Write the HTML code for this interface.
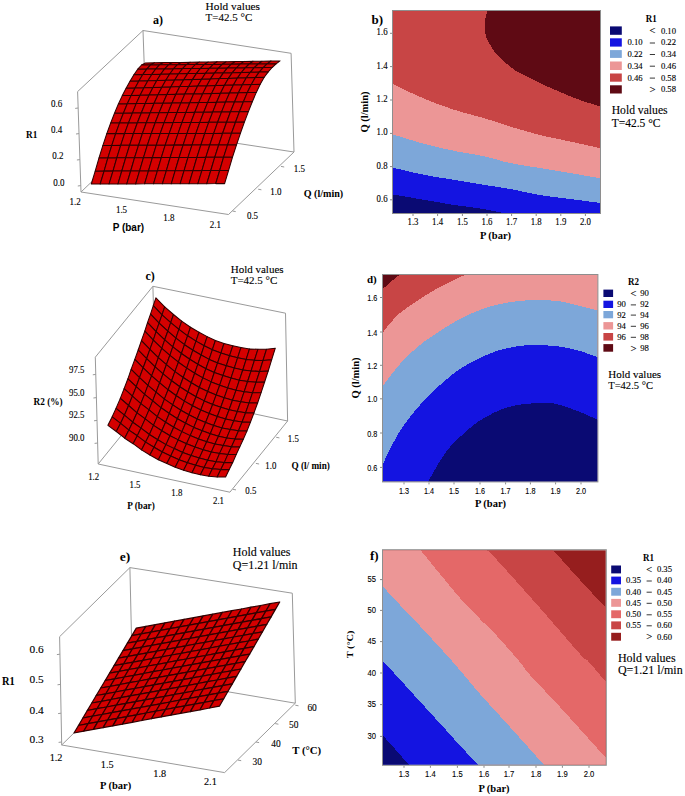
<!DOCTYPE html>
<html><head><meta charset="utf-8"><title>figure</title>
<style>html,body{margin:0;padding:0;background:#fff}svg{display:block}</style>
</head><body>
<svg width="685" height="796" viewBox="0 0 685 796">
<rect width="685" height="796" fill="#fff"/>
<line x1="81.0" y1="192.0" x2="77.6" y2="91.6" stroke="#9a9a9a" stroke-width="1"/>
<line x1="77.6" y1="91.6" x2="143.0" y2="30.5" stroke="#9a9a9a" stroke-width="1"/>
<line x1="143.0" y1="30.5" x2="291.1" y2="53.3" stroke="#9a9a9a" stroke-width="1"/>
<line x1="143.0" y1="30.5" x2="146.5" y2="129.5" stroke="#9a9a9a" stroke-width="1"/>
<line x1="291.1" y1="53.3" x2="294.0" y2="152.0" stroke="#9a9a9a" stroke-width="1"/>
<line x1="81.0" y1="192.0" x2="228.5" y2="214.5" stroke="#9a9a9a" stroke-width="1"/>
<line x1="228.5" y1="214.5" x2="294.0" y2="152.0" stroke="#9a9a9a" stroke-width="1"/>
<line x1="146.5" y1="129.5" x2="294.0" y2="152.0" stroke="#9a9a9a" stroke-width="1"/>
<line x1="81.0" y1="192.0" x2="146.5" y2="129.5" stroke="#9a9a9a" stroke-width="1"/>
<g stroke="#300000" stroke-width="1.05" stroke-linejoin="round" fill="#d40000">
<polygon points="141.6,65.0 150.6,64.9 154.5,62.8 145.5,62.9"/>
<polygon points="150.6,64.9 159.5,64.8 163.4,62.6 154.5,62.8"/>
<polygon points="159.5,64.8 168.5,64.8 172.4,62.5 163.4,62.6"/>
<polygon points="168.5,64.8 177.5,64.7 181.4,62.4 172.4,62.5"/>
<polygon points="177.5,64.7 186.4,64.6 190.3,62.2 181.4,62.4"/>
<polygon points="186.4,64.6 195.4,64.5 199.3,62.1 190.3,62.2"/>
<polygon points="195.4,64.5 204.4,64.4 208.3,62.0 199.3,62.1"/>
<polygon points="204.4,64.4 213.3,64.4 217.2,61.8 208.3,62.0"/>
<polygon points="213.3,64.4 222.3,64.3 226.2,61.7 217.2,61.8"/>
<polygon points="222.3,64.3 231.3,64.2 235.2,61.6 226.2,61.7"/>
<polygon points="231.3,64.2 240.2,64.1 244.2,61.4 235.2,61.6"/>
<polygon points="240.2,64.1 249.2,64.0 253.1,61.3 244.2,61.4"/>
<polygon points="249.2,64.0 258.2,64.0 262.1,61.2 253.1,61.3"/>
<polygon points="258.2,64.0 267.1,63.9 271.1,61.0 262.1,61.2"/>
<polygon points="267.1,63.9 276.1,63.8 280.0,60.9 271.1,61.0"/>
<polygon points="137.7,69.2 146.7,69.1 150.6,64.9 141.6,65.0"/>
<polygon points="146.7,69.1 155.7,69.0 159.5,64.8 150.6,64.9"/>
<polygon points="155.7,69.0 164.6,68.9 168.5,64.8 159.5,64.8"/>
<polygon points="164.6,68.9 173.6,68.7 177.5,64.7 168.5,64.8"/>
<polygon points="173.6,68.7 182.5,68.6 186.4,64.6 177.5,64.7"/>
<polygon points="182.5,68.6 191.5,68.5 195.4,64.5 186.4,64.6"/>
<polygon points="191.5,68.5 200.5,68.4 204.4,64.4 195.4,64.5"/>
<polygon points="200.5,68.4 209.4,68.3 213.3,64.4 204.4,64.4"/>
<polygon points="209.4,68.3 218.4,68.2 222.3,64.3 213.3,64.4"/>
<polygon points="218.4,68.2 227.3,68.1 231.3,64.2 222.3,64.3"/>
<polygon points="227.3,68.1 236.3,68.0 240.2,64.1 231.3,64.2"/>
<polygon points="236.3,68.0 245.2,67.8 249.2,64.0 240.2,64.1"/>
<polygon points="245.2,67.8 254.2,67.7 258.2,64.0 249.2,64.0"/>
<polygon points="254.2,67.7 263.2,67.6 267.1,63.9 258.2,64.0"/>
<polygon points="263.2,67.6 272.1,67.5 276.1,63.8 267.1,63.9"/>
<polygon points="133.9,74.8 142.8,74.6 146.7,69.1 137.7,69.2"/>
<polygon points="142.8,74.6 151.8,74.4 155.7,69.0 146.7,69.1"/>
<polygon points="151.8,74.4 160.7,74.2 164.6,68.9 155.7,69.0"/>
<polygon points="160.7,74.2 169.7,74.0 173.6,68.7 164.6,68.9"/>
<polygon points="169.7,74.0 178.6,73.8 182.5,68.6 173.6,68.7"/>
<polygon points="178.6,73.8 187.6,73.6 191.5,68.5 182.5,68.6"/>
<polygon points="187.6,73.6 196.5,73.4 200.5,68.4 191.5,68.5"/>
<polygon points="196.5,73.4 205.5,73.3 209.4,68.3 200.5,68.4"/>
<polygon points="205.5,73.3 214.4,73.1 218.4,68.2 209.4,68.3"/>
<polygon points="214.4,73.1 223.4,72.9 227.3,68.1 218.4,68.2"/>
<polygon points="223.4,72.9 232.3,72.7 236.3,68.0 227.3,68.1"/>
<polygon points="232.3,72.7 241.3,72.5 245.2,67.8 236.3,68.0"/>
<polygon points="241.3,72.5 250.3,72.3 254.2,67.7 245.2,67.8"/>
<polygon points="250.3,72.3 259.2,72.1 263.2,67.6 254.2,67.7"/>
<polygon points="259.2,72.1 268.2,71.9 272.1,67.5 263.2,67.6"/>
<polygon points="130.0,81.3 138.9,81.0 142.8,74.6 133.9,74.8"/>
<polygon points="138.9,81.0 147.9,80.8 151.8,74.4 142.8,74.6"/>
<polygon points="147.9,80.8 156.8,80.5 160.7,74.2 151.8,74.4"/>
<polygon points="156.8,80.5 165.8,80.2 169.7,74.0 160.7,74.2"/>
<polygon points="165.8,80.2 174.7,80.0 178.6,73.8 169.7,74.0"/>
<polygon points="174.7,80.0 183.7,79.7 187.6,73.6 178.6,73.8"/>
<polygon points="183.7,79.7 192.6,79.4 196.5,73.4 187.6,73.6"/>
<polygon points="192.6,79.4 201.6,79.2 205.5,73.3 196.5,73.4"/>
<polygon points="201.6,79.2 210.5,78.9 214.4,73.1 205.5,73.3"/>
<polygon points="210.5,78.9 219.5,78.6 223.4,72.9 214.4,73.1"/>
<polygon points="219.5,78.6 228.4,78.4 232.3,72.7 223.4,72.9"/>
<polygon points="228.4,78.4 237.4,78.1 241.3,72.5 232.3,72.7"/>
<polygon points="237.4,78.1 246.3,77.8 250.3,72.3 241.3,72.5"/>
<polygon points="246.3,77.8 255.3,77.6 259.2,72.1 250.3,72.3"/>
<polygon points="255.3,77.6 264.2,77.3 268.2,71.9 259.2,72.1"/>
<polygon points="126.1,88.2 135.1,87.9 138.9,81.0 130.0,81.3"/>
<polygon points="135.1,87.9 144.0,87.7 147.9,80.8 138.9,81.0"/>
<polygon points="144.0,87.7 153.0,87.4 156.8,80.5 147.9,80.8"/>
<polygon points="153.0,87.4 161.9,87.2 165.8,80.2 156.8,80.5"/>
<polygon points="161.9,87.2 170.8,86.9 174.7,80.0 165.8,80.2"/>
<polygon points="170.8,86.9 179.8,86.6 183.7,79.7 174.7,80.0"/>
<polygon points="179.8,86.6 188.7,86.4 192.6,79.4 183.7,79.7"/>
<polygon points="188.7,86.4 197.7,86.1 201.6,79.2 192.6,79.4"/>
<polygon points="197.7,86.1 206.6,85.9 210.5,78.9 201.6,79.2"/>
<polygon points="206.6,85.9 215.5,85.6 219.5,78.6 210.5,78.9"/>
<polygon points="215.5,85.6 224.5,85.3 228.4,78.4 219.5,78.6"/>
<polygon points="224.5,85.3 233.4,85.1 237.4,78.1 228.4,78.4"/>
<polygon points="233.4,85.1 242.4,84.8 246.3,77.8 237.4,78.1"/>
<polygon points="242.4,84.8 251.3,84.6 255.3,77.6 246.3,77.8"/>
<polygon points="251.3,84.6 260.2,84.3 264.2,77.3 255.3,77.6"/>
<polygon points="122.3,95.6 131.2,95.4 135.1,87.9 126.1,88.2"/>
<polygon points="131.2,95.4 140.1,95.2 144.0,87.7 135.1,87.9"/>
<polygon points="140.1,95.2 149.1,95.0 153.0,87.4 144.0,87.7"/>
<polygon points="149.1,95.0 158.0,94.7 161.9,87.2 153.0,87.4"/>
<polygon points="158.0,94.7 166.9,94.5 170.8,86.9 161.9,87.2"/>
<polygon points="166.9,94.5 175.9,94.3 179.8,86.6 170.8,86.9"/>
<polygon points="175.9,94.3 184.8,94.1 188.7,86.4 179.8,86.6"/>
<polygon points="184.8,94.1 193.7,93.9 197.7,86.1 188.7,86.4"/>
<polygon points="193.7,93.9 202.7,93.7 206.6,85.9 197.7,86.1"/>
<polygon points="202.7,93.7 211.6,93.5 215.5,85.6 206.6,85.9"/>
<polygon points="211.6,93.5 220.5,93.3 224.5,85.3 215.5,85.6"/>
<polygon points="220.5,93.3 229.5,93.0 233.4,85.1 224.5,85.3"/>
<polygon points="229.5,93.0 238.4,92.8 242.4,84.8 233.4,85.1"/>
<polygon points="238.4,92.8 247.3,92.6 251.3,84.6 242.4,84.8"/>
<polygon points="247.3,92.6 256.3,92.4 260.2,84.3 251.3,84.6"/>
<polygon points="118.4,103.9 127.3,103.8 131.2,95.4 122.3,95.6"/>
<polygon points="127.3,103.8 136.2,103.6 140.1,95.2 131.2,95.4"/>
<polygon points="136.2,103.6 145.2,103.5 149.1,95.0 140.1,95.2"/>
<polygon points="145.2,103.5 154.1,103.3 158.0,94.7 149.1,95.0"/>
<polygon points="154.1,103.3 163.0,103.2 166.9,94.5 158.0,94.7"/>
<polygon points="163.0,103.2 172.0,103.0 175.9,94.3 166.9,94.5"/>
<polygon points="172.0,103.0 180.9,102.9 184.8,94.1 175.9,94.3"/>
<polygon points="180.9,102.9 189.8,102.7 193.7,93.9 184.8,94.1"/>
<polygon points="189.8,102.7 198.7,102.6 202.7,93.7 193.7,93.9"/>
<polygon points="198.7,102.6 207.7,102.4 211.6,93.5 202.7,93.7"/>
<polygon points="207.7,102.4 216.6,102.3 220.5,93.3 211.6,93.5"/>
<polygon points="216.6,102.3 225.5,102.1 229.5,93.0 220.5,93.3"/>
<polygon points="225.5,102.1 234.5,102.0 238.4,92.8 229.5,93.0"/>
<polygon points="234.5,102.0 243.4,101.8 247.3,92.6 238.4,92.8"/>
<polygon points="243.4,101.8 252.3,101.7 256.3,92.4 247.3,92.6"/>
<polygon points="114.5,113.3 123.4,113.2 127.3,103.8 118.4,103.9"/>
<polygon points="123.4,113.2 132.4,113.1 136.2,103.6 127.3,103.8"/>
<polygon points="132.4,113.1 141.3,113.0 145.2,103.5 136.2,103.6"/>
<polygon points="141.3,113.0 150.2,112.8 154.1,103.3 145.2,103.5"/>
<polygon points="150.2,112.8 159.1,112.7 163.0,103.2 154.1,103.3"/>
<polygon points="159.1,112.7 168.1,112.6 172.0,103.0 163.0,103.2"/>
<polygon points="168.1,112.6 177.0,112.5 180.9,102.9 172.0,103.0"/>
<polygon points="177.0,112.5 185.9,112.4 189.8,102.7 180.9,102.9"/>
<polygon points="185.9,112.4 194.8,112.3 198.7,102.6 189.8,102.7"/>
<polygon points="194.8,112.3 203.7,112.2 207.7,102.4 198.7,102.6"/>
<polygon points="203.7,112.2 212.7,112.1 216.6,102.3 207.7,102.4"/>
<polygon points="212.7,112.1 221.6,111.9 225.5,102.1 216.6,102.3"/>
<polygon points="221.6,111.9 230.5,111.8 234.5,102.0 225.5,102.1"/>
<polygon points="230.5,111.8 239.4,111.7 243.4,101.8 234.5,102.0"/>
<polygon points="239.4,111.7 248.4,111.6 252.3,101.7 243.4,101.8"/>
<polygon points="110.7,123.0 119.6,122.9 123.4,113.2 114.5,113.3"/>
<polygon points="119.6,122.9 128.5,122.9 132.4,113.1 123.4,113.2"/>
<polygon points="128.5,122.9 137.4,122.8 141.3,113.0 132.4,113.1"/>
<polygon points="137.4,122.8 146.3,122.8 150.2,112.8 141.3,113.0"/>
<polygon points="146.3,122.8 155.2,122.7 159.1,112.7 150.2,112.8"/>
<polygon points="155.2,122.7 164.1,122.6 168.1,112.6 159.1,112.7"/>
<polygon points="164.1,122.6 173.1,122.6 177.0,112.5 168.1,112.6"/>
<polygon points="173.1,122.6 182.0,122.5 185.9,112.4 177.0,112.5"/>
<polygon points="182.0,122.5 190.9,122.5 194.8,112.3 185.9,112.4"/>
<polygon points="190.9,122.5 199.8,122.4 203.7,112.2 194.8,112.3"/>
<polygon points="199.8,122.4 208.7,122.3 212.7,112.1 203.7,112.2"/>
<polygon points="208.7,122.3 217.6,122.3 221.6,111.9 212.7,112.1"/>
<polygon points="217.6,122.3 226.6,122.2 230.5,111.8 221.6,111.9"/>
<polygon points="226.6,122.2 235.5,122.2 239.4,111.7 230.5,111.8"/>
<polygon points="235.5,122.2 244.4,122.1 248.4,111.6 239.4,111.7"/>
<polygon points="106.8,133.6 115.7,133.6 119.6,122.9 110.7,123.0"/>
<polygon points="115.7,133.6 124.6,133.6 128.5,122.9 119.6,122.9"/>
<polygon points="124.6,133.6 133.5,133.5 137.4,122.8 128.5,122.9"/>
<polygon points="133.5,133.5 142.4,133.5 146.3,122.8 137.4,122.8"/>
<polygon points="142.4,133.5 151.3,133.5 155.2,122.7 146.3,122.8"/>
<polygon points="151.3,133.5 160.2,133.5 164.1,122.6 155.2,122.7"/>
<polygon points="160.2,133.5 169.2,133.5 173.1,122.6 164.1,122.6"/>
<polygon points="169.2,133.5 178.1,133.4 182.0,122.5 173.1,122.6"/>
<polygon points="178.1,133.4 187.0,133.4 190.9,122.5 182.0,122.5"/>
<polygon points="187.0,133.4 195.9,133.4 199.8,122.4 190.9,122.5"/>
<polygon points="195.9,133.4 204.8,133.4 208.7,122.3 199.8,122.4"/>
<polygon points="204.8,133.4 213.7,133.4 217.6,122.3 208.7,122.3"/>
<polygon points="213.7,133.4 222.6,133.3 226.6,122.2 217.6,122.3"/>
<polygon points="222.6,133.3 231.5,133.3 235.5,122.2 226.6,122.2"/>
<polygon points="231.5,133.3 240.4,133.3 244.4,122.1 235.5,122.2"/>
<polygon points="102.9,145.4 111.8,145.4 115.7,133.6 106.8,133.6"/>
<polygon points="111.8,145.4 120.7,145.3 124.6,133.6 115.7,133.6"/>
<polygon points="120.7,145.3 129.6,145.3 133.5,133.5 124.6,133.6"/>
<polygon points="129.6,145.3 138.5,145.3 142.4,133.5 133.5,133.5"/>
<polygon points="138.5,145.3 147.4,145.2 151.3,133.5 142.4,133.5"/>
<polygon points="147.4,145.2 156.3,145.2 160.2,133.5 151.3,133.5"/>
<polygon points="156.3,145.2 165.2,145.2 169.2,133.5 160.2,133.5"/>
<polygon points="165.2,145.2 174.1,145.1 178.1,133.4 169.2,133.5"/>
<polygon points="174.1,145.1 183.1,145.1 187.0,133.4 178.1,133.4"/>
<polygon points="183.1,145.1 192.0,145.1 195.9,133.4 187.0,133.4"/>
<polygon points="192.0,145.1 200.9,145.0 204.8,133.4 195.9,133.4"/>
<polygon points="200.9,145.0 209.8,145.0 213.7,133.4 204.8,133.4"/>
<polygon points="209.8,145.0 218.7,145.0 222.6,133.3 213.7,133.4"/>
<polygon points="218.7,145.0 227.6,144.9 231.5,133.3 222.6,133.3"/>
<polygon points="227.6,144.9 236.5,144.9 240.4,133.3 231.5,133.3"/>
<polygon points="99.0,157.9 107.9,157.9 111.8,145.4 102.9,145.4"/>
<polygon points="107.9,157.9 116.8,157.8 120.7,145.3 111.8,145.4"/>
<polygon points="116.8,157.8 125.7,157.8 129.6,145.3 120.7,145.3"/>
<polygon points="125.7,157.8 134.6,157.7 138.5,145.3 129.6,145.3"/>
<polygon points="134.6,157.7 143.5,157.7 147.4,145.2 138.5,145.3"/>
<polygon points="143.5,157.7 152.4,157.6 156.3,145.2 147.4,145.2"/>
<polygon points="152.4,157.6 161.3,157.6 165.2,145.2 156.3,145.2"/>
<polygon points="161.3,157.6 170.2,157.5 174.1,145.1 165.2,145.2"/>
<polygon points="170.2,157.5 179.1,157.5 183.1,145.1 174.1,145.1"/>
<polygon points="179.1,157.5 188.0,157.4 192.0,145.1 183.1,145.1"/>
<polygon points="188.0,157.4 196.9,157.4 200.9,145.0 192.0,145.1"/>
<polygon points="196.9,157.4 205.8,157.3 209.8,145.0 200.9,145.0"/>
<polygon points="205.8,157.3 214.7,157.3 218.7,145.0 209.8,145.0"/>
<polygon points="214.7,157.3 223.6,157.2 227.6,144.9 218.7,145.0"/>
<polygon points="223.6,157.2 232.5,157.2 236.5,144.9 227.6,144.9"/>
<polygon points="95.2,171.2 104.1,171.1 107.9,157.9 99.0,157.9"/>
<polygon points="104.1,171.1 113.0,171.1 116.8,157.8 107.9,157.9"/>
<polygon points="113.0,171.1 121.8,171.0 125.7,157.8 116.8,157.8"/>
<polygon points="121.8,171.0 130.7,171.0 134.6,157.7 125.7,157.8"/>
<polygon points="130.7,171.0 139.6,170.9 143.5,157.7 134.6,157.7"/>
<polygon points="139.6,170.9 148.5,170.9 152.4,157.6 143.5,157.7"/>
<polygon points="148.5,170.9 157.4,170.8 161.3,157.6 152.4,157.6"/>
<polygon points="157.4,170.8 166.3,170.8 170.2,157.5 161.3,157.6"/>
<polygon points="166.3,170.8 175.2,170.7 179.1,157.5 170.2,157.5"/>
<polygon points="175.2,170.7 184.1,170.7 188.0,157.4 179.1,157.5"/>
<polygon points="184.1,170.7 193.0,170.6 196.9,157.4 188.0,157.4"/>
<polygon points="193.0,170.6 201.9,170.6 205.8,157.3 196.9,157.4"/>
<polygon points="201.9,170.6 210.8,170.5 214.7,157.3 205.8,157.3"/>
<polygon points="210.8,170.5 219.7,170.5 223.6,157.2 214.7,157.3"/>
<polygon points="219.7,170.5 228.6,170.4 232.5,157.2 223.6,157.2"/>
<polygon points="91.3,184.0 100.2,184.0 104.1,171.1 95.2,171.2"/>
<polygon points="100.2,184.0 109.1,183.9 113.0,171.1 104.1,171.1"/>
<polygon points="109.1,183.9 118.0,183.9 121.8,171.0 113.0,171.1"/>
<polygon points="118.0,183.9 126.8,183.9 130.7,171.0 121.8,171.0"/>
<polygon points="126.8,183.9 135.7,183.9 139.6,170.9 130.7,171.0"/>
<polygon points="135.7,183.9 144.6,183.8 148.5,170.9 139.6,170.9"/>
<polygon points="144.6,183.8 153.5,183.8 157.4,170.8 148.5,170.9"/>
<polygon points="153.5,183.8 162.4,183.8 166.3,170.8 157.4,170.8"/>
<polygon points="162.4,183.8 171.3,183.8 175.2,170.7 166.3,170.8"/>
<polygon points="171.3,183.8 180.2,183.7 184.1,170.7 175.2,170.7"/>
<polygon points="180.2,183.7 189.1,183.7 193.0,170.6 184.1,170.7"/>
<polygon points="189.1,183.7 197.9,183.7 201.9,170.6 193.0,170.6"/>
<polygon points="197.9,183.7 206.8,183.7 210.8,170.5 201.9,170.6"/>
<polygon points="206.8,183.7 215.7,183.6 219.7,170.5 210.8,170.5"/>
<polygon points="215.7,183.6 224.6,183.6 228.6,170.4 219.7,170.5"/>
</g>
<line x1="98.2" y1="464.0" x2="95.3" y2="357.2" stroke="#9a9a9a" stroke-width="1"/>
<line x1="95.3" y1="357.2" x2="152.9" y2="286.3" stroke="#9a9a9a" stroke-width="1"/>
<line x1="152.9" y1="286.3" x2="285.5" y2="313.2" stroke="#9a9a9a" stroke-width="1"/>
<line x1="152.9" y1="286.3" x2="155.9" y2="392.8" stroke="#9a9a9a" stroke-width="1"/>
<line x1="285.5" y1="313.2" x2="287.6" y2="421.0" stroke="#9a9a9a" stroke-width="1"/>
<line x1="98.2" y1="464.0" x2="229.9" y2="492.2" stroke="#9a9a9a" stroke-width="1"/>
<line x1="229.9" y1="492.2" x2="287.6" y2="421.0" stroke="#9a9a9a" stroke-width="1"/>
<line x1="155.9" y1="392.8" x2="287.6" y2="421.0" stroke="#9a9a9a" stroke-width="1"/>
<line x1="98.2" y1="464.0" x2="155.9" y2="392.8" stroke="#9a9a9a" stroke-width="1"/>
<g stroke="#300000" stroke-width="1.05" stroke-linejoin="round" fill="#d40000">
<polygon points="153.3,305.7 162.0,314.8 164.7,306.8 155.9,297.8"/>
<polygon points="162.0,314.8 170.7,322.6 173.5,314.5 164.7,306.8"/>
<polygon points="170.7,322.6 178.9,329.4 181.7,321.1 173.5,314.5"/>
<polygon points="178.9,329.4 187.6,335.8 190.5,327.2 181.7,321.1"/>
<polygon points="187.6,335.8 196.0,341.1 199.0,332.3 190.5,327.2"/>
<polygon points="196.0,341.1 204.2,345.7 207.2,336.6 199.0,332.3"/>
<polygon points="204.2,345.7 212.3,349.8 215.4,340.5 207.2,336.6"/>
<polygon points="212.3,349.8 220.9,353.1 224.0,343.5 215.4,340.5"/>
<polygon points="220.9,353.1 229.6,355.7 232.8,345.8 224.0,343.5"/>
<polygon points="229.6,355.7 237.6,357.8 240.9,347.6 232.8,345.8"/>
<polygon points="237.6,357.8 246.2,359.4 249.5,348.9 240.9,347.6"/>
<polygon points="246.2,359.4 254.5,360.2 257.9,349.3 249.5,348.9"/>
<polygon points="254.5,360.2 263.0,360.5 266.5,349.3 257.9,349.3"/>
<polygon points="263.0,360.5 271.7,359.7 275.3,348.2 266.5,349.3"/>
<polygon points="150.5,314.2 159.1,323.2 162.0,314.8 153.3,305.7"/>
<polygon points="159.1,323.2 167.8,331.2 170.7,322.6 162.0,314.8"/>
<polygon points="167.8,331.2 175.9,338.1 178.9,329.4 170.7,322.6"/>
<polygon points="175.9,338.1 184.5,344.7 187.6,335.8 178.9,329.4"/>
<polygon points="184.5,344.7 192.9,350.2 196.0,341.1 187.6,335.8"/>
<polygon points="192.9,350.2 201.1,355.0 204.2,345.7 196.0,341.1"/>
<polygon points="201.1,355.0 209.2,359.4 212.3,349.8 204.2,345.7"/>
<polygon points="209.2,359.4 217.6,362.9 220.9,353.1 212.3,349.8"/>
<polygon points="217.6,362.9 226.3,365.8 229.6,355.7 220.9,353.1"/>
<polygon points="226.3,365.8 234.3,368.1 237.6,357.8 229.6,355.7"/>
<polygon points="234.3,368.1 242.8,370.0 246.2,359.4 237.6,357.8"/>
<polygon points="242.8,370.0 251.1,370.9 254.5,360.2 246.2,359.4"/>
<polygon points="251.1,370.9 259.6,371.5 263.0,360.5 254.5,360.2"/>
<polygon points="259.6,371.5 268.2,371.0 271.7,359.7 263.0,360.5"/>
<polygon points="147.5,322.7 156.1,331.7 159.1,323.2 150.5,314.2"/>
<polygon points="156.1,331.7 164.7,339.8 167.8,331.2 159.1,323.2"/>
<polygon points="164.7,339.8 172.8,346.8 175.9,338.1 167.8,331.2"/>
<polygon points="172.8,346.8 181.4,353.5 184.5,344.7 175.9,338.1"/>
<polygon points="181.4,353.5 189.7,359.3 192.9,350.2 184.5,344.7"/>
<polygon points="189.7,359.3 197.8,364.3 201.1,355.0 192.9,350.2"/>
<polygon points="197.8,364.3 205.9,368.7 209.2,359.4 201.1,355.0"/>
<polygon points="205.9,368.7 214.3,372.5 217.6,362.9 209.2,359.4"/>
<polygon points="214.3,372.5 222.9,375.6 226.3,365.8 217.6,362.9"/>
<polygon points="222.9,375.6 231.0,378.1 234.3,368.1 226.3,365.8"/>
<polygon points="231.0,378.1 239.4,380.2 242.8,370.0 234.3,368.1"/>
<polygon points="239.4,380.2 247.6,381.5 251.1,370.9 242.8,370.0"/>
<polygon points="247.6,381.5 256.1,382.2 259.6,371.5 251.1,370.9"/>
<polygon points="256.1,382.2 264.6,382.0 268.2,371.0 259.6,371.5"/>
<polygon points="144.8,331.1 153.3,340.1 156.1,331.7 147.5,322.7"/>
<polygon points="153.3,340.1 161.8,348.3 164.7,339.8 156.1,331.7"/>
<polygon points="161.8,348.3 169.9,355.3 172.8,346.8 164.7,339.8"/>
<polygon points="169.9,355.3 178.4,362.2 181.4,353.5 172.8,346.8"/>
<polygon points="178.4,362.2 186.7,368.1 189.7,359.3 181.4,353.5"/>
<polygon points="186.7,368.1 194.7,373.3 197.8,364.3 189.7,359.3"/>
<polygon points="194.7,373.3 202.8,377.9 205.9,368.7 197.8,364.3"/>
<polygon points="202.8,377.9 211.2,381.9 214.3,372.5 205.9,368.7"/>
<polygon points="211.2,381.9 219.7,385.2 222.9,375.6 214.3,372.5"/>
<polygon points="219.7,385.2 227.7,387.9 231.0,378.1 222.9,375.6"/>
<polygon points="227.7,387.9 236.0,390.3 239.4,380.2 231.0,378.1"/>
<polygon points="236.0,390.3 244.2,391.7 247.6,381.5 239.4,380.2"/>
<polygon points="244.2,391.7 252.6,392.7 256.1,382.2 247.6,381.5"/>
<polygon points="252.6,392.7 261.1,392.7 264.6,382.0 256.1,382.2"/>
<polygon points="141.4,340.6 149.9,349.4 153.3,340.1 144.8,331.1"/>
<polygon points="149.9,349.4 158.3,357.6 161.8,348.3 153.3,340.1"/>
<polygon points="158.3,357.6 166.4,364.6 169.9,355.3 161.8,348.3"/>
<polygon points="166.4,364.6 174.9,371.6 178.4,362.2 169.9,355.3"/>
<polygon points="174.9,371.6 183.2,377.5 186.7,368.1 178.4,362.2"/>
<polygon points="183.2,377.5 191.3,382.8 194.7,373.3 186.7,368.1"/>
<polygon points="191.3,382.8 199.3,387.5 202.8,377.9 194.7,373.3"/>
<polygon points="199.3,387.5 207.7,391.5 211.2,381.9 202.8,377.9"/>
<polygon points="207.7,391.5 216.2,394.9 219.7,385.2 211.2,381.9"/>
<polygon points="216.2,394.9 224.2,397.8 227.7,387.9 219.7,385.2"/>
<polygon points="224.2,397.8 232.5,400.2 236.0,390.3 227.7,387.9"/>
<polygon points="232.5,400.2 240.7,401.8 244.2,391.7 236.0,390.3"/>
<polygon points="240.7,401.8 249.1,402.9 252.6,392.7 244.2,391.7"/>
<polygon points="249.1,402.9 257.6,403.0 261.1,392.7 252.6,392.7"/>
<polygon points="138.2,350.0 146.6,358.7 149.9,349.4 141.4,340.6"/>
<polygon points="146.6,358.7 155.1,366.8 158.3,357.6 149.9,349.4"/>
<polygon points="155.1,366.8 163.1,373.8 166.4,364.6 158.3,357.6"/>
<polygon points="163.1,373.8 171.6,380.8 174.9,371.6 166.4,364.6"/>
<polygon points="171.6,380.8 179.8,386.7 183.2,377.5 174.9,371.6"/>
<polygon points="179.8,386.7 187.9,392.0 191.3,382.8 183.2,377.5"/>
<polygon points="187.9,392.0 196.0,396.7 199.3,387.5 191.3,382.8"/>
<polygon points="196.0,396.7 204.3,400.9 207.7,391.5 199.3,387.5"/>
<polygon points="204.3,400.9 212.7,404.4 216.2,394.9 207.7,391.5"/>
<polygon points="212.7,404.4 220.8,407.3 224.2,397.8 216.2,394.9"/>
<polygon points="220.8,407.3 229.1,409.8 232.5,400.2 224.2,397.8"/>
<polygon points="229.1,409.8 237.3,411.5 240.7,401.8 232.5,400.2"/>
<polygon points="237.3,411.5 245.6,412.7 249.1,402.9 240.7,401.8"/>
<polygon points="245.6,412.7 254.0,412.9 257.6,403.0 249.1,402.9"/>
<polygon points="134.8,359.4 143.2,367.8 146.6,358.7 138.2,350.0"/>
<polygon points="143.2,367.8 151.6,375.9 155.1,366.8 146.6,358.7"/>
<polygon points="151.6,375.9 159.7,382.8 163.1,373.8 155.1,366.8"/>
<polygon points="159.7,382.8 168.1,389.8 171.6,380.8 163.1,373.8"/>
<polygon points="168.1,389.8 176.3,395.7 179.8,386.7 171.6,380.8"/>
<polygon points="176.3,395.7 184.4,401.1 187.9,392.0 179.8,386.7"/>
<polygon points="184.4,401.1 192.5,405.8 196.0,396.7 187.9,392.0"/>
<polygon points="192.5,405.8 200.8,410.0 204.3,400.9 196.0,396.7"/>
<polygon points="200.8,410.0 209.2,413.5 212.7,404.4 204.3,400.9"/>
<polygon points="209.2,413.5 217.3,416.5 220.8,407.3 212.7,404.4"/>
<polygon points="217.3,416.5 225.6,419.0 229.1,409.8 220.8,407.3"/>
<polygon points="225.6,419.0 233.8,420.8 237.3,411.5 229.1,409.8"/>
<polygon points="233.8,420.8 242.1,422.0 245.6,412.7 237.3,411.5"/>
<polygon points="242.1,422.0 250.4,422.3 254.0,412.9 245.6,412.7"/>
<polygon points="131.1,369.4 139.5,377.6 143.2,367.8 134.8,359.4"/>
<polygon points="139.5,377.6 147.9,385.4 151.6,375.9 143.2,367.8"/>
<polygon points="147.9,385.4 156.0,392.2 159.7,382.8 151.6,375.9"/>
<polygon points="156.0,392.2 164.4,399.1 168.1,389.8 159.7,382.8"/>
<polygon points="164.4,399.1 172.7,404.9 176.3,395.7 168.1,389.8"/>
<polygon points="172.7,404.9 180.8,410.2 184.4,401.1 176.3,395.7"/>
<polygon points="180.8,410.2 188.9,414.8 192.5,405.8 184.4,401.1"/>
<polygon points="188.9,414.8 197.2,419.0 200.8,410.0 192.5,405.8"/>
<polygon points="197.2,419.0 205.6,422.5 209.2,413.5 200.8,410.0"/>
<polygon points="205.6,422.5 213.7,425.4 217.3,416.5 209.2,413.5"/>
<polygon points="213.7,425.4 222.0,427.9 225.6,419.0 217.3,416.5"/>
<polygon points="222.0,427.9 230.2,429.6 233.8,420.8 225.6,419.0"/>
<polygon points="230.2,429.6 238.5,430.8 242.1,422.0 233.8,420.8"/>
<polygon points="238.5,430.8 246.9,431.1 250.4,422.3 242.1,422.0"/>
<polygon points="127.9,378.8 136.2,386.7 139.5,377.6 131.1,369.4"/>
<polygon points="136.2,386.7 144.6,394.4 147.9,385.4 139.5,377.6"/>
<polygon points="144.6,394.4 152.7,400.9 156.0,392.2 147.9,385.4"/>
<polygon points="152.7,400.9 161.1,407.8 164.4,399.1 156.0,392.2"/>
<polygon points="161.1,407.8 169.3,413.5 172.7,404.9 164.4,399.1"/>
<polygon points="169.3,413.5 177.4,418.7 180.8,410.2 172.7,404.9"/>
<polygon points="177.4,418.7 185.6,423.2 188.9,414.8 180.8,410.2"/>
<polygon points="185.6,423.2 193.8,427.4 197.2,419.0 188.9,414.8"/>
<polygon points="193.8,427.4 202.2,430.8 205.6,422.5 197.2,419.0"/>
<polygon points="202.2,430.8 210.3,433.7 213.7,425.4 205.6,422.5"/>
<polygon points="210.3,433.7 218.5,436.2 222.0,427.9 213.7,425.4"/>
<polygon points="218.5,436.2 226.7,437.9 230.2,429.6 222.0,427.9"/>
<polygon points="226.7,437.9 235.0,439.0 238.5,430.8 230.2,429.6"/>
<polygon points="235.0,439.0 243.3,439.3 246.9,431.1 238.5,430.8"/>
<polygon points="124.1,388.6 132.4,396.1 136.2,386.7 127.9,378.8"/>
<polygon points="132.4,396.1 140.8,403.6 144.6,394.4 136.2,386.7"/>
<polygon points="140.8,403.6 149.0,409.9 152.7,400.9 144.6,394.4"/>
<polygon points="149.0,409.9 157.3,416.6 161.1,407.8 152.7,400.9"/>
<polygon points="157.3,416.6 165.6,422.2 169.3,413.5 161.1,407.8"/>
<polygon points="165.6,422.2 173.7,427.2 177.4,418.7 169.3,413.5"/>
<polygon points="173.7,427.2 181.9,431.6 185.6,423.2 177.4,418.7"/>
<polygon points="181.9,431.6 190.2,435.6 193.8,427.4 185.6,423.2"/>
<polygon points="190.2,435.6 198.5,438.9 202.2,430.8 193.8,427.4"/>
<polygon points="198.5,438.9 206.7,441.7 210.3,433.7 202.2,430.8"/>
<polygon points="206.7,441.7 214.9,444.0 218.5,436.2 210.3,433.7"/>
<polygon points="214.9,444.0 223.2,445.6 226.7,437.9 218.5,436.2"/>
<polygon points="223.2,445.6 231.5,446.7 235.0,439.0 226.7,437.9"/>
<polygon points="231.5,446.7 239.8,446.9 243.3,439.3 235.0,439.0"/>
<polygon points="120.3,398.4 128.6,405.5 132.4,396.1 124.1,388.6"/>
<polygon points="128.6,405.5 137.0,412.8 140.8,403.6 132.4,396.1"/>
<polygon points="137.0,412.8 145.2,418.9 149.0,409.9 140.8,403.6"/>
<polygon points="145.2,418.9 153.5,425.4 157.3,416.6 149.0,409.9"/>
<polygon points="153.5,425.4 161.8,430.8 165.6,422.2 157.3,416.6"/>
<polygon points="161.8,430.8 170.0,435.7 173.7,427.2 165.6,422.2"/>
<polygon points="170.0,435.7 178.2,439.9 181.9,431.6 173.7,427.2"/>
<polygon points="178.2,439.9 186.5,443.8 190.2,435.6 181.9,431.6"/>
<polygon points="186.5,443.8 194.9,447.1 198.5,438.9 190.2,435.6"/>
<polygon points="194.9,447.1 203.1,449.7 206.7,441.7 198.5,438.9"/>
<polygon points="203.1,449.7 211.4,451.9 214.9,444.0 206.7,441.7"/>
<polygon points="211.4,451.9 219.6,453.4 223.2,445.6 214.9,444.0"/>
<polygon points="219.6,453.4 227.9,454.4 231.5,446.7 223.2,445.6"/>
<polygon points="227.9,454.4 236.2,454.5 239.8,446.9 231.5,446.7"/>
<polygon points="116.0,408.4 124.4,415.2 128.6,405.5 120.3,398.4"/>
<polygon points="124.4,415.2 132.7,422.2 137.0,412.8 128.6,405.5"/>
<polygon points="132.7,422.2 141.0,428.1 145.2,418.9 137.0,412.8"/>
<polygon points="141.0,428.1 149.4,434.5 153.5,425.4 145.2,418.9"/>
<polygon points="149.4,434.5 157.7,439.7 161.8,430.8 153.5,425.4"/>
<polygon points="157.7,439.7 166.0,444.6 170.0,435.7 161.8,430.8"/>
<polygon points="166.0,444.6 174.3,448.6 178.2,439.9 170.0,435.7"/>
<polygon points="174.3,448.6 182.7,452.4 186.5,443.8 178.2,439.9"/>
<polygon points="182.7,452.4 191.0,455.6 194.9,447.1 186.5,443.8"/>
<polygon points="191.0,455.6 199.3,458.1 203.1,449.7 194.9,447.1"/>
<polygon points="199.3,458.1 207.7,460.2 211.4,451.9 203.1,449.7"/>
<polygon points="207.7,460.2 216.0,461.7 219.6,453.4 211.4,451.9"/>
<polygon points="216.0,461.7 224.3,462.6 227.9,454.4 219.6,453.4"/>
<polygon points="224.3,462.6 232.7,462.6 236.2,454.5 227.9,454.4"/>
<polygon points="112.2,416.8 120.6,423.3 124.4,415.2 116.0,408.4"/>
<polygon points="120.6,423.3 128.9,430.1 132.7,422.2 124.4,415.2"/>
<polygon points="128.9,430.1 137.3,435.8 141.0,428.1 132.7,422.2"/>
<polygon points="137.3,435.8 145.6,442.1 149.4,434.5 141.0,428.1"/>
<polygon points="145.6,442.1 154.0,447.3 157.7,439.7 149.4,434.5"/>
<polygon points="154.0,447.3 162.3,452.0 166.0,444.6 157.7,439.7"/>
<polygon points="162.3,452.0 170.7,455.9 174.3,448.6 166.0,444.6"/>
<polygon points="170.7,455.9 179.0,459.7 182.7,452.4 174.3,448.6"/>
<polygon points="179.0,459.7 187.4,462.8 191.0,455.6 182.7,452.4"/>
<polygon points="187.4,462.8 195.7,465.2 199.3,458.1 191.0,455.6"/>
<polygon points="195.7,465.2 204.1,467.4 207.7,460.2 199.3,458.1"/>
<polygon points="204.1,467.4 212.4,468.8 216.0,461.7 207.7,460.2"/>
<polygon points="212.4,468.8 220.8,469.6 224.3,462.6 216.0,461.7"/>
<polygon points="220.8,469.6 229.2,469.6 232.7,462.6 224.3,462.6"/>
<polygon points="107.9,425.3 116.3,431.5 120.6,423.3 112.2,416.8"/>
<polygon points="116.3,431.5 124.7,438.2 128.9,430.1 120.6,423.3"/>
<polygon points="124.7,438.2 133.1,443.7 137.3,435.8 128.9,430.1"/>
<polygon points="133.1,443.7 141.5,449.9 145.6,442.1 137.3,435.8"/>
<polygon points="141.5,449.9 149.9,455.0 154.0,447.3 145.6,442.1"/>
<polygon points="149.9,455.0 158.3,459.7 162.3,452.0 154.0,447.3"/>
<polygon points="158.3,459.7 166.8,463.5 170.7,455.9 162.3,452.0"/>
<polygon points="166.8,463.5 175.2,467.2 179.0,459.7 170.7,455.9"/>
<polygon points="175.2,467.2 183.6,470.3 187.4,462.8 179.0,459.7"/>
<polygon points="183.6,470.3 192.0,472.7 195.7,465.2 187.4,462.8"/>
<polygon points="192.0,472.7 200.4,474.8 204.1,467.4 195.7,465.2"/>
<polygon points="200.4,474.8 208.8,476.2 212.4,468.8 204.1,467.4"/>
<polygon points="208.8,476.2 217.2,477.0 220.8,469.6 212.4,468.8"/>
<polygon points="217.2,477.0 225.6,477.0 229.2,469.6 220.8,469.6"/>
</g>
<line x1="61.7" y1="745.0" x2="59.6" y2="636.7" stroke="#9a9a9a" stroke-width="1"/>
<line x1="59.6" y1="636.7" x2="129.9" y2="567.6" stroke="#9a9a9a" stroke-width="1"/>
<line x1="129.9" y1="567.6" x2="292.3" y2="593.2" stroke="#9a9a9a" stroke-width="1"/>
<line x1="129.9" y1="567.6" x2="132.4" y2="675.6" stroke="#9a9a9a" stroke-width="1"/>
<line x1="292.3" y1="593.2" x2="295.3" y2="703.2" stroke="#9a9a9a" stroke-width="1"/>
<line x1="61.7" y1="745.0" x2="224.6" y2="772.6" stroke="#9a9a9a" stroke-width="1"/>
<line x1="224.6" y1="772.6" x2="295.3" y2="703.2" stroke="#9a9a9a" stroke-width="1"/>
<line x1="132.4" y1="675.6" x2="295.3" y2="703.2" stroke="#9a9a9a" stroke-width="1"/>
<line x1="61.7" y1="745.0" x2="132.4" y2="675.6" stroke="#9a9a9a" stroke-width="1"/>
<g stroke="#300000" stroke-width="1.25" stroke-linejoin="round" fill="#d40000">
<polygon points="131.9,635.6 141.4,633.8 145.9,626.4 136.3,628.1"/>
<polygon points="141.4,633.8 151.0,632.1 155.4,624.6 145.9,626.4"/>
<polygon points="151.0,632.1 160.6,630.4 165.0,622.9 155.4,624.6"/>
<polygon points="160.6,630.4 170.1,628.6 174.5,621.1 165.0,622.9"/>
<polygon points="170.1,628.6 179.7,626.9 184.1,619.4 174.5,621.1"/>
<polygon points="179.7,626.9 189.3,625.1 193.7,617.7 184.1,619.4"/>
<polygon points="189.3,625.1 198.8,623.4 203.2,615.9 193.7,617.7"/>
<polygon points="198.8,623.4 208.4,621.6 212.8,614.2 203.2,615.9"/>
<polygon points="208.4,621.6 218.0,619.9 222.3,612.4 212.8,614.2"/>
<polygon points="218.0,619.9 227.5,618.2 231.9,610.7 222.3,612.4"/>
<polygon points="227.5,618.2 237.1,616.4 241.5,609.0 231.9,610.7"/>
<polygon points="237.1,616.4 246.7,614.7 251.0,607.2 241.5,609.0"/>
<polygon points="246.7,614.7 256.3,612.9 260.6,605.5 251.0,607.2"/>
<polygon points="256.3,612.9 265.8,611.2 270.1,603.7 260.6,605.5"/>
<polygon points="265.8,611.2 275.4,609.4 279.7,602.0 270.1,603.7"/>
<polygon points="127.4,643.1 137.0,641.3 141.4,633.8 131.9,635.6"/>
<polygon points="137.0,641.3 146.6,639.6 151.0,632.1 141.4,633.8"/>
<polygon points="146.6,639.6 156.1,637.8 160.6,630.4 151.0,632.1"/>
<polygon points="156.1,637.8 165.7,636.1 170.1,628.6 160.6,630.4"/>
<polygon points="165.7,636.1 175.3,634.4 179.7,626.9 170.1,628.6"/>
<polygon points="175.3,634.4 184.9,632.6 189.3,625.1 179.7,626.9"/>
<polygon points="184.9,632.6 194.5,630.9 198.8,623.4 189.3,625.1"/>
<polygon points="194.5,630.9 204.0,629.1 208.4,621.6 198.8,623.4"/>
<polygon points="204.0,629.1 213.6,627.4 218.0,619.9 208.4,621.6"/>
<polygon points="213.6,627.4 223.2,625.6 227.5,618.2 218.0,619.9"/>
<polygon points="223.2,625.6 232.8,623.9 237.1,616.4 227.5,618.2"/>
<polygon points="232.8,623.9 242.3,622.1 246.7,614.7 237.1,616.4"/>
<polygon points="242.3,622.1 251.9,620.4 256.3,612.9 246.7,614.7"/>
<polygon points="251.9,620.4 261.5,618.6 265.8,611.2 256.3,612.9"/>
<polygon points="261.5,618.6 271.1,616.9 275.4,609.4 265.8,611.2"/>
<polygon points="123.0,650.6 132.5,648.8 137.0,641.3 127.4,643.1"/>
<polygon points="132.5,648.8 142.1,647.1 146.6,639.6 137.0,641.3"/>
<polygon points="142.1,647.1 151.7,645.3 156.1,637.8 146.6,639.6"/>
<polygon points="151.7,645.3 161.3,643.6 165.7,636.1 156.1,637.8"/>
<polygon points="161.3,643.6 170.9,641.8 175.3,634.4 165.7,636.1"/>
<polygon points="170.9,641.8 180.5,640.1 184.9,632.6 175.3,634.4"/>
<polygon points="180.5,640.1 190.1,638.3 194.5,630.9 184.9,632.6"/>
<polygon points="190.1,638.3 199.7,636.6 204.0,629.1 194.5,630.9"/>
<polygon points="199.7,636.6 209.2,634.8 213.6,627.4 204.0,629.1"/>
<polygon points="209.2,634.8 218.8,633.1 223.2,625.6 213.6,627.4"/>
<polygon points="218.8,633.1 228.4,631.3 232.8,623.9 223.2,625.6"/>
<polygon points="228.4,631.3 238.0,629.6 242.3,622.1 232.8,623.9"/>
<polygon points="238.0,629.6 247.6,627.8 251.9,620.4 242.3,622.1"/>
<polygon points="247.6,627.8 257.2,626.1 261.5,618.6 251.9,620.4"/>
<polygon points="257.2,626.1 266.8,624.3 271.1,616.9 261.5,618.6"/>
<polygon points="118.5,658.1 128.1,656.3 132.5,648.8 123.0,650.6"/>
<polygon points="128.1,656.3 137.7,654.6 142.1,647.1 132.5,648.8"/>
<polygon points="137.7,654.6 147.3,652.8 151.7,645.3 142.1,647.1"/>
<polygon points="147.3,652.8 156.9,651.1 161.3,643.6 151.7,645.3"/>
<polygon points="156.9,651.1 166.5,649.3 170.9,641.8 161.3,643.6"/>
<polygon points="166.5,649.3 176.1,647.6 180.5,640.1 170.9,641.8"/>
<polygon points="176.1,647.6 185.7,645.8 190.1,638.3 180.5,640.1"/>
<polygon points="185.7,645.8 195.3,644.0 199.7,636.6 190.1,638.3"/>
<polygon points="195.3,644.0 204.9,642.3 209.2,634.8 199.7,636.6"/>
<polygon points="204.9,642.3 214.5,640.5 218.8,633.1 209.2,634.8"/>
<polygon points="214.5,640.5 224.1,638.8 228.4,631.3 218.8,633.1"/>
<polygon points="224.1,638.8 233.7,637.0 238.0,629.6 228.4,631.3"/>
<polygon points="233.7,637.0 243.3,635.3 247.6,627.8 238.0,629.6"/>
<polygon points="243.3,635.3 252.9,633.5 257.2,626.1 247.6,627.8"/>
<polygon points="252.9,633.5 262.5,631.8 266.8,624.3 257.2,626.1"/>
<polygon points="114.1,665.6 123.7,663.8 128.1,656.3 118.5,658.1"/>
<polygon points="123.7,663.8 133.3,662.1 137.7,654.6 128.1,656.3"/>
<polygon points="133.3,662.1 142.9,660.3 147.3,652.8 137.7,654.6"/>
<polygon points="142.9,660.3 152.5,658.5 156.9,651.1 147.3,652.8"/>
<polygon points="152.5,658.5 162.1,656.8 166.5,649.3 156.9,651.1"/>
<polygon points="162.1,656.8 171.7,655.0 176.1,647.6 166.5,649.3"/>
<polygon points="171.7,655.0 181.3,653.3 185.7,645.8 176.1,647.6"/>
<polygon points="181.3,653.3 190.9,651.5 195.3,644.0 185.7,645.8"/>
<polygon points="190.9,651.5 200.5,649.8 204.9,642.3 195.3,644.0"/>
<polygon points="200.5,649.8 210.1,648.0 214.5,640.5 204.9,642.3"/>
<polygon points="210.1,648.0 219.7,646.2 224.1,638.8 214.5,640.5"/>
<polygon points="219.7,646.2 229.3,644.5 233.7,637.0 224.1,638.8"/>
<polygon points="229.3,644.5 238.9,642.7 243.3,635.3 233.7,637.0"/>
<polygon points="238.9,642.7 248.6,641.0 252.9,633.5 243.3,635.3"/>
<polygon points="248.6,641.0 258.2,639.2 262.5,631.8 252.9,633.5"/>
<polygon points="109.6,673.1 119.2,671.3 123.7,663.8 114.1,665.6"/>
<polygon points="119.2,671.3 128.8,669.5 133.3,662.1 123.7,663.8"/>
<polygon points="128.8,669.5 138.5,667.8 142.9,660.3 133.3,662.1"/>
<polygon points="138.5,667.8 148.1,666.0 152.5,658.5 142.9,660.3"/>
<polygon points="148.1,666.0 157.7,664.3 162.1,656.8 152.5,658.5"/>
<polygon points="157.7,664.3 167.3,662.5 171.7,655.0 162.1,656.8"/>
<polygon points="167.3,662.5 176.9,660.7 181.3,653.3 171.7,655.0"/>
<polygon points="176.9,660.7 186.5,659.0 190.9,651.5 181.3,653.3"/>
<polygon points="186.5,659.0 196.2,657.2 200.5,649.8 190.9,651.5"/>
<polygon points="196.2,657.2 205.8,655.5 210.1,648.0 200.5,649.8"/>
<polygon points="205.8,655.5 215.4,653.7 219.7,646.2 210.1,648.0"/>
<polygon points="215.4,653.7 225.0,651.9 229.3,644.5 219.7,646.2"/>
<polygon points="225.0,651.9 234.6,650.2 238.9,642.7 229.3,644.5"/>
<polygon points="234.6,650.2 244.2,648.4 248.6,641.0 238.9,642.7"/>
<polygon points="244.2,648.4 253.9,646.7 258.2,639.2 248.6,641.0"/>
<polygon points="105.2,680.5 114.8,678.8 119.2,671.3 109.6,673.1"/>
<polygon points="114.8,678.8 124.4,677.0 128.8,669.5 119.2,671.3"/>
<polygon points="124.4,677.0 134.0,675.3 138.5,667.8 128.8,669.5"/>
<polygon points="134.0,675.3 143.7,673.5 148.1,666.0 138.5,667.8"/>
<polygon points="143.7,673.5 153.3,671.7 157.7,664.3 148.1,666.0"/>
<polygon points="153.3,671.7 162.9,670.0 167.3,662.5 157.7,664.3"/>
<polygon points="162.9,670.0 172.5,668.2 176.9,660.7 167.3,662.5"/>
<polygon points="172.5,668.2 182.2,666.4 186.5,659.0 176.9,660.7"/>
<polygon points="182.2,666.4 191.8,664.7 196.2,657.2 186.5,659.0"/>
<polygon points="191.8,664.7 201.4,662.9 205.8,655.5 196.2,657.2"/>
<polygon points="201.4,662.9 211.0,661.2 215.4,653.7 205.8,655.5"/>
<polygon points="211.0,661.2 220.7,659.4 225.0,651.9 215.4,653.7"/>
<polygon points="220.7,659.4 230.3,657.6 234.6,650.2 225.0,651.9"/>
<polygon points="230.3,657.6 239.9,655.9 244.2,648.4 234.6,650.2"/>
<polygon points="239.9,655.9 249.6,654.1 253.9,646.7 244.2,648.4"/>
<polygon points="100.7,688.0 110.3,686.3 114.8,678.8 105.2,680.5"/>
<polygon points="110.3,686.3 120.0,684.5 124.4,677.0 114.8,678.8"/>
<polygon points="120.0,684.5 129.6,682.7 134.0,675.3 124.4,677.0"/>
<polygon points="129.6,682.7 139.2,681.0 143.7,673.5 134.0,675.3"/>
<polygon points="139.2,681.0 148.9,679.2 153.3,671.7 143.7,673.5"/>
<polygon points="148.9,679.2 158.5,677.4 162.9,670.0 153.3,671.7"/>
<polygon points="158.5,677.4 168.2,675.7 172.5,668.2 162.9,670.0"/>
<polygon points="168.2,675.7 177.8,673.9 182.2,666.4 172.5,668.2"/>
<polygon points="177.8,673.9 187.4,672.1 191.8,664.7 182.2,666.4"/>
<polygon points="187.4,672.1 197.1,670.4 201.4,662.9 191.8,664.7"/>
<polygon points="197.1,670.4 206.7,668.6 211.0,661.2 201.4,662.9"/>
<polygon points="206.7,668.6 216.3,666.8 220.7,659.4 211.0,661.2"/>
<polygon points="216.3,666.8 226.0,665.1 230.3,657.6 220.7,659.4"/>
<polygon points="226.0,665.1 235.6,663.3 239.9,655.9 230.3,657.6"/>
<polygon points="235.6,663.3 245.2,661.5 249.6,654.1 239.9,655.9"/>
<polygon points="96.2,695.5 105.9,693.8 110.3,686.3 100.7,688.0"/>
<polygon points="105.9,693.8 115.5,692.0 120.0,684.5 110.3,686.3"/>
<polygon points="115.5,692.0 125.2,690.2 129.6,682.7 120.0,684.5"/>
<polygon points="125.2,690.2 134.8,688.5 139.2,681.0 129.6,682.7"/>
<polygon points="134.8,688.5 144.5,686.7 148.9,679.2 139.2,681.0"/>
<polygon points="144.5,686.7 154.1,684.9 158.5,677.4 148.9,679.2"/>
<polygon points="154.1,684.9 163.8,683.1 168.2,675.7 158.5,677.4"/>
<polygon points="163.8,683.1 173.4,681.4 177.8,673.9 168.2,675.7"/>
<polygon points="173.4,681.4 183.1,679.6 187.4,672.1 177.8,673.9"/>
<polygon points="183.1,679.6 192.7,677.8 197.1,670.4 187.4,672.1"/>
<polygon points="192.7,677.8 202.4,676.1 206.7,668.6 197.1,670.4"/>
<polygon points="202.4,676.1 212.0,674.3 216.3,666.8 206.7,668.6"/>
<polygon points="212.0,674.3 221.6,672.5 226.0,665.1 216.3,666.8"/>
<polygon points="221.6,672.5 231.3,670.8 235.6,663.3 226.0,665.1"/>
<polygon points="231.3,670.8 240.9,669.0 245.2,661.5 235.6,663.3"/>
<polygon points="91.8,703.0 101.5,701.3 105.9,693.8 96.2,695.5"/>
<polygon points="101.5,701.3 111.1,699.5 115.5,692.0 105.9,693.8"/>
<polygon points="111.1,699.5 120.8,697.7 125.2,690.2 115.5,692.0"/>
<polygon points="120.8,697.7 130.4,695.9 134.8,688.5 125.2,690.2"/>
<polygon points="130.4,695.9 140.1,694.2 144.5,686.7 134.8,688.5"/>
<polygon points="140.1,694.2 149.7,692.4 154.1,684.9 144.5,686.7"/>
<polygon points="149.7,692.4 159.4,690.6 163.8,683.1 154.1,684.9"/>
<polygon points="159.4,690.6 169.0,688.8 173.4,681.4 163.8,683.1"/>
<polygon points="169.0,688.8 178.7,687.1 183.1,679.6 173.4,681.4"/>
<polygon points="178.7,687.1 188.4,685.3 192.7,677.8 183.1,679.6"/>
<polygon points="188.4,685.3 198.0,683.5 202.4,676.1 192.7,677.8"/>
<polygon points="198.0,683.5 207.7,681.7 212.0,674.3 202.4,676.1"/>
<polygon points="207.7,681.7 217.3,680.0 221.6,672.5 212.0,674.3"/>
<polygon points="217.3,680.0 227.0,678.2 231.3,670.8 221.6,672.5"/>
<polygon points="227.0,678.2 236.6,676.4 240.9,669.0 231.3,670.8"/>
<polygon points="87.3,710.5 97.0,708.7 101.5,701.3 91.8,703.0"/>
<polygon points="97.0,708.7 106.7,707.0 111.1,699.5 101.5,701.3"/>
<polygon points="106.7,707.0 116.3,705.2 120.8,697.7 111.1,699.5"/>
<polygon points="116.3,705.2 126.0,703.4 130.4,695.9 120.8,697.7"/>
<polygon points="126.0,703.4 135.7,701.6 140.1,694.2 130.4,695.9"/>
<polygon points="135.7,701.6 145.3,699.9 149.7,692.4 140.1,694.2"/>
<polygon points="145.3,699.9 155.0,698.1 159.4,690.6 149.7,692.4"/>
<polygon points="155.0,698.1 164.7,696.3 169.0,688.8 159.4,690.6"/>
<polygon points="164.7,696.3 174.3,694.5 178.7,687.1 169.0,688.8"/>
<polygon points="174.3,694.5 184.0,692.8 188.4,685.3 178.7,687.1"/>
<polygon points="184.0,692.8 193.7,691.0 198.0,683.5 188.4,685.3"/>
<polygon points="193.7,691.0 203.3,689.2 207.7,681.7 198.0,683.5"/>
<polygon points="203.3,689.2 213.0,687.4 217.3,680.0 207.7,681.7"/>
<polygon points="213.0,687.4 222.7,685.6 227.0,678.2 217.3,680.0"/>
<polygon points="222.7,685.6 232.3,683.9 236.6,676.4 227.0,678.2"/>
<polygon points="82.9,718.0 92.6,716.2 97.0,708.7 87.3,710.5"/>
<polygon points="92.6,716.2 102.2,714.5 106.7,707.0 97.0,708.7"/>
<polygon points="102.2,714.5 111.9,712.7 116.3,705.2 106.7,707.0"/>
<polygon points="111.9,712.7 121.6,710.9 126.0,703.4 116.3,705.2"/>
<polygon points="121.6,710.9 131.3,709.1 135.7,701.6 126.0,703.4"/>
<polygon points="131.3,709.1 140.9,707.3 145.3,699.9 135.7,701.6"/>
<polygon points="140.9,707.3 150.6,705.6 155.0,698.1 145.3,699.9"/>
<polygon points="150.6,705.6 160.3,703.8 164.7,696.3 155.0,698.1"/>
<polygon points="160.3,703.8 170.0,702.0 174.3,694.5 164.7,696.3"/>
<polygon points="170.0,702.0 179.6,700.2 184.0,692.8 174.3,694.5"/>
<polygon points="179.6,700.2 189.3,698.4 193.7,691.0 184.0,692.8"/>
<polygon points="189.3,698.4 199.0,696.7 203.3,689.2 193.7,691.0"/>
<polygon points="199.0,696.7 208.7,694.9 213.0,687.4 203.3,689.2"/>
<polygon points="208.7,694.9 218.3,693.1 222.7,685.6 213.0,687.4"/>
<polygon points="218.3,693.1 228.0,691.3 232.3,683.9 222.7,685.6"/>
<polygon points="78.5,725.5 88.1,723.7 92.6,716.2 82.9,718.0"/>
<polygon points="88.1,723.7 97.8,721.9 102.2,714.5 92.6,716.2"/>
<polygon points="97.8,721.9 107.5,720.2 111.9,712.7 102.2,714.5"/>
<polygon points="107.5,720.2 117.2,718.4 121.6,710.9 111.9,712.7"/>
<polygon points="117.2,718.4 126.9,716.6 131.3,709.1 121.6,710.9"/>
<polygon points="126.9,716.6 136.6,714.8 140.9,707.3 131.3,709.1"/>
<polygon points="136.6,714.8 146.2,713.0 150.6,705.6 140.9,707.3"/>
<polygon points="146.2,713.0 155.9,711.2 160.3,703.8 150.6,705.6"/>
<polygon points="155.9,711.2 165.6,709.5 170.0,702.0 160.3,703.8"/>
<polygon points="165.6,709.5 175.3,707.7 179.6,700.2 170.0,702.0"/>
<polygon points="175.3,707.7 185.0,705.9 189.3,698.4 179.6,700.2"/>
<polygon points="185.0,705.9 194.7,704.1 199.0,696.7 189.3,698.4"/>
<polygon points="194.7,704.1 204.3,702.3 208.7,694.9 199.0,696.7"/>
<polygon points="204.3,702.3 214.0,700.5 218.3,693.1 208.7,694.9"/>
<polygon points="214.0,700.5 223.7,698.8 228.0,691.3 218.3,693.1"/>
<polygon points="74.0,733.0 83.7,731.2 88.1,723.7 78.5,725.5"/>
<polygon points="83.7,731.2 93.4,729.4 97.8,721.9 88.1,723.7"/>
<polygon points="93.4,729.4 103.1,727.6 107.5,720.2 97.8,721.9"/>
<polygon points="103.1,727.6 112.8,725.9 117.2,718.4 107.5,720.2"/>
<polygon points="112.8,725.9 122.5,724.1 126.9,716.6 117.2,718.4"/>
<polygon points="122.5,724.1 132.2,722.3 136.6,714.8 126.9,716.6"/>
<polygon points="132.2,722.3 141.9,720.5 146.2,713.0 136.6,714.8"/>
<polygon points="141.9,720.5 151.5,718.7 155.9,711.2 146.2,713.0"/>
<polygon points="151.5,718.7 161.2,716.9 165.6,709.5 155.9,711.2"/>
<polygon points="161.2,716.9 170.9,715.1 175.3,707.7 165.6,709.5"/>
<polygon points="170.9,715.1 180.6,713.3 185.0,705.9 175.3,707.7"/>
<polygon points="180.6,713.3 190.3,711.6 194.7,704.1 185.0,705.9"/>
<polygon points="190.3,711.6 200.0,709.8 204.3,702.3 194.7,704.1"/>
<polygon points="200.0,709.8 209.7,708.0 214.0,700.5 204.3,702.3"/>
<polygon points="209.7,708.0 219.4,706.2 223.7,698.8 214.0,700.5"/>
</g>
<clipPath id="cb"><rect x="393.0" y="11.0" width="207.0" height="202.0"/></clipPath>
<g clip-path="url(#cb)" shape-rendering="crispEdges">
<rect x="393.0" y="11.0" width="207.0" height="202.0" fill="#c84545"/>
<polygon points="488.0,8.0 487.7,9.3 487.3,11.0 486.8,13.0 486.2,15.2 485.7,17.6 485.2,19.9 484.8,22.1 484.6,24.0 484.5,25.7 484.5,27.3 484.6,28.8 484.7,30.2 484.9,31.7 485.2,33.1 485.6,34.5 486.0,36.0 486.5,37.5 487.1,39.0 487.8,40.6 488.6,42.1 489.4,43.6 490.3,45.1 491.1,46.6 492.0,48.0 492.9,49.3 493.8,50.6 494.7,51.9 495.6,53.1 496.6,54.3 497.7,55.5 498.8,56.8 500.0,58.0 501.3,59.3 502.9,60.6 504.5,62.0 506.1,63.4 507.8,64.7 509.3,65.9 510.8,67.0 512.0,68.0 512.9,68.7 513.5,69.3 514.0,69.6 514.4,69.9 514.8,70.3 515.5,70.6 516.5,71.2 518.0,72.0 520.0,73.1 522.4,74.3 525.2,75.7 528.1,77.2 531.2,78.7 534.3,80.2 537.2,81.7 540.0,83.0 542.6,84.2 545.1,85.4 547.6,86.6 550.1,87.7 552.6,88.8 555.0,89.9 557.5,90.9 560.0,92.0 562.5,93.1 565.0,94.1 567.4,95.1 569.9,96.1 572.4,97.1 574.9,98.1 577.4,99.1 580.0,100.0 582.8,101.0 585.9,102.0 589.1,103.0 592.2,104.0 595.3,104.9 598.0,105.8 600.3,106.5 602.0,107.0 602.0,0.0" fill="#5f0a14" />
<polygon points="390.0,83.0 390.0,83.0 389.7,82.9 389.4,82.7 389.2,82.6 389.2,82.6 389.6,82.7 390.6,83.2 392.4,84.0 395.0,85.2 398.5,86.9 402.5,88.8 407.0,90.9 411.6,93.1 416.3,95.2 420.8,97.2 425.0,99.0 428.9,100.6 432.7,102.1 436.4,103.5 440.2,104.9 443.9,106.2 447.6,107.5 451.3,108.8 455.0,110.0 458.8,111.2 462.6,112.3 466.5,113.4 470.3,114.4 474.1,115.5 477.9,116.5 481.5,117.5 485.0,118.5 488.3,119.5 491.5,120.5 494.5,121.5 497.5,122.4 500.5,123.4 503.5,124.4 506.7,125.4 510.0,126.4 513.5,127.5 517.1,128.6 520.9,129.7 524.7,130.8 528.5,131.9 532.4,133.0 536.2,134.0 540.0,135.0 543.7,135.9 547.5,136.8 551.2,137.6 554.9,138.3 558.6,139.1 562.4,139.9 566.2,140.7 570.0,141.5 574.1,142.4 578.6,143.4 583.3,144.4 587.9,145.4 592.3,146.4 596.2,147.2 599.5,148.0 602.0,148.5 610.0,220.0 380.0,220.0" fill="#ec9696" />
<polygon points="390.0,134.0 390.0,134.0 389.7,133.9 389.4,133.7 389.2,133.6 389.2,133.6 389.6,133.6 390.6,133.9 392.4,134.4 395.0,135.2 398.5,136.2 402.5,137.4 407.0,138.8 411.6,140.2 416.3,141.6 420.8,142.9 425.0,144.0 428.9,145.0 432.7,146.0 436.4,146.9 440.2,147.8 443.9,148.6 447.6,149.4 451.3,150.2 455.0,151.0 458.8,151.8 462.6,152.5 466.5,153.1 470.3,153.8 474.1,154.4 477.9,155.1 481.5,155.8 485.0,156.5 488.3,157.3 491.5,158.1 494.5,158.9 497.5,159.8 500.5,160.6 503.5,161.5 506.7,162.3 510.0,163.0 513.5,163.7 517.1,164.4 520.9,165.0 524.7,165.6 528.5,166.2 532.4,166.8 536.2,167.4 540.0,168.0 543.7,168.6 547.5,169.2 551.2,169.9 554.9,170.5 558.6,171.1 562.4,171.7 566.2,172.4 570.0,173.0 574.1,173.7 578.6,174.5 583.3,175.3 587.9,176.1 592.3,176.8 596.2,177.5 599.5,178.1 602.0,178.5 610.0,220.0 380.0,220.0" fill="#7da7d9" />
<polygon points="390.0,167.2 390.0,167.2 389.7,167.1 389.4,167.0 389.2,166.9 389.2,166.9 389.6,167.0 390.6,167.2 392.4,167.6 395.0,168.2 398.5,169.0 402.5,170.0 407.0,171.0 411.6,172.1 416.3,173.2 420.8,174.1 425.0,175.0 428.9,175.7 432.7,176.4 436.4,177.1 440.2,177.7 443.9,178.2 447.6,178.8 451.3,179.4 455.0,180.0 458.8,180.6 462.6,181.3 466.5,181.9 470.3,182.6 474.1,183.2 477.9,183.8 481.5,184.4 485.0,185.0 488.3,185.5 491.5,186.0 494.5,186.5 497.5,186.9 500.5,187.4 503.5,187.9 506.7,188.4 510.0,189.0 513.5,189.7 517.1,190.4 520.9,191.2 524.7,192.0 528.5,192.8 532.4,193.6 536.2,194.3 540.0,195.0 543.7,195.6 547.5,196.1 551.2,196.6 554.9,197.1 558.6,197.6 562.4,198.0 566.2,198.5 570.0,199.0 574.1,199.5 578.6,200.1 583.3,200.7 587.9,201.3 592.3,201.9 596.2,202.4 599.5,202.9 602.0,203.2 610.0,220.0 380.0,220.0" fill="#1414e1" />
<polygon points="390.0,194.0 390.0,194.0 389.7,194.0 389.4,193.9 389.2,193.9 389.2,193.9 389.6,193.9 390.6,194.1 392.4,194.4 395.0,194.9 398.5,195.4 402.5,196.1 407.0,196.9 411.6,197.7 416.3,198.5 420.8,199.3 425.0,200.0 428.9,200.7 432.8,201.3 436.7,202.0 440.5,202.6 444.2,203.3 447.9,203.9 451.5,204.5 455.0,205.0 458.4,205.5 461.6,206.0 464.8,206.4 467.9,206.8 470.9,207.2 473.9,207.6 477.0,208.0 480.0,208.5 483.2,209.0 486.5,209.6 489.9,210.2 493.2,210.9 496.4,211.5 499.3,212.1 501.9,212.6 504.0,213.0 505.7,213.3 506.9,213.6 507.8,213.8 508.5,214.0 509.0,214.2 509.3,214.3 509.7,214.4 510.0,214.5 510.0,220.0 380.0,220.0" fill="#0a0a73" />
</g>
<rect x="392.50" y="10.50" width="208.00" height="203.00" fill="none" stroke="#8e8e8e" stroke-width="1"/>
<clipPath id="cd"><rect x="383.0" y="275.0" width="214.4" height="206.4"/></clipPath>
<g clip-path="url(#cd)" shape-rendering="crispEdges">
<rect x="383.0" y="275.0" width="214.4" height="206.4" fill="#5f0a14"/>
<polygon points="380.0,291.5 380.1,291.4 380.3,291.3 380.5,291.1 380.7,290.9 380.9,290.7 381.3,290.4 381.8,290.0 382.4,289.4 383.2,288.7 384.1,287.8 385.2,286.8 386.3,285.8 387.5,284.7 388.7,283.6 389.9,282.5 391.0,281.5 392.1,280.5 393.4,279.6 394.6,278.6 395.9,277.6 397.0,276.7 398.2,275.8 399.2,275.1 400.0,274.4 400.7,273.9 401.2,273.4 401.7,273.1 402.1,272.8 402.4,272.5 402.6,272.3 402.8,272.2 403.0,272.0 610.0,272.0 610.0,490.0 370.0,490.0" fill="#c84545" />
<polygon points="380.0,336.0 380.1,335.8 380.3,335.6 380.5,335.4 380.7,335.1 381.0,334.7 381.4,334.3 381.8,333.7 382.4,333.0 383.1,332.1 383.9,331.1 384.8,330.0 385.7,328.7 386.7,327.4 387.8,326.1 388.9,324.8 390.0,323.5 391.1,322.3 392.1,321.0 393.1,319.8 394.2,318.5 395.4,317.2 396.7,315.9 398.3,314.5 400.0,313.0 402.0,311.4 404.3,309.7 406.8,307.9 409.4,306.1 412.1,304.3 414.8,302.4 417.4,300.7 420.0,299.0 422.5,297.4 424.9,295.9 427.2,294.4 429.6,292.9 432.1,291.5 434.6,290.0 437.2,288.5 440.0,287.0 443.1,285.4 446.5,283.7 450.2,281.9 453.9,280.1 457.5,278.4 460.8,276.8 463.7,275.5 466.0,274.4 467.7,273.6 469.0,273.0 470.0,272.6 470.6,272.4 471.1,272.3 471.4,272.2 471.7,272.1 472.0,272.0 610.0,272.0 610.0,490.0 370.0,490.0" fill="#ec9696" />
<polygon points="380.0,391.0 380.1,390.8 380.1,390.6 380.1,390.5 380.1,390.2 380.3,389.8 380.7,389.1 381.4,388.1 382.4,386.6 383.9,384.6 385.7,382.1 387.8,379.3 390.1,376.2 392.6,373.0 395.1,369.8 397.6,366.8 400.0,364.0 402.4,361.4 404.8,358.9 407.3,356.4 409.9,354.0 412.4,351.6 414.9,349.3 417.5,347.1 420.0,345.0 422.5,343.0 425.0,341.1 427.5,339.3 430.0,337.6 432.5,335.9 435.0,334.2 437.5,332.6 440.0,331.0 442.5,329.4 445.0,327.8 447.5,326.2 450.0,324.7 452.5,323.2 455.0,321.7 457.5,320.3 460.0,319.0 462.5,317.7 465.0,316.5 467.5,315.3 470.0,314.1 472.5,313.0 475.0,312.0 477.5,311.0 480.0,310.0 482.5,309.1 485.0,308.2 487.5,307.4 490.0,306.6 492.5,305.9 495.0,305.2 497.5,304.6 500.0,304.0 502.5,303.5 505.1,303.0 507.6,302.6 510.2,302.2 512.7,301.8 515.2,301.5 517.6,301.3 520.0,301.0 522.2,300.8 524.3,300.6 526.3,300.4 528.3,300.2 530.3,300.1 532.4,300.0 534.6,300.0 537.0,300.0 539.6,300.0 542.4,300.1 545.3,300.2 548.3,300.4 551.3,300.5 554.3,300.8 557.2,301.1 560.0,301.4 562.7,301.8 565.3,302.3 567.8,302.9 570.3,303.5 572.8,304.1 575.2,304.8 577.6,305.4 580.0,306.0 582.4,306.6 585.0,307.2 587.5,307.9 590.0,308.5 592.4,309.1 594.5,309.7 596.4,310.2 598.0,310.6 599.2,310.9 600.1,311.2 600.7,311.4 601.1,311.6 601.4,311.7 601.6,311.8 601.8,311.9 602.0,312.0 610.0,490.0 370.0,490.0" fill="#7da7d9" />
<polygon points="380.0,470.0 380.1,469.7 380.3,469.4 380.5,469.0 380.7,468.5 381.0,467.9 381.4,467.1 381.8,466.2 382.4,465.0 383.1,463.5 383.9,461.8 384.8,459.9 385.7,457.8 386.7,455.6 387.8,453.4 388.9,451.2 390.0,449.0 391.1,446.8 392.3,444.5 393.6,442.2 394.9,439.9 396.1,437.5 397.4,435.3 398.7,433.1 400.0,431.0 401.2,429.0 402.5,427.2 403.8,425.4 405.0,423.6 406.2,421.9 407.5,420.3 408.8,418.6 410.0,417.0 411.3,415.4 412.5,413.8 413.8,412.2 415.1,410.7 416.4,409.2 417.6,407.7 418.8,406.3 420.0,405.0 421.1,403.8 422.0,402.7 423.0,401.7 423.9,400.7 424.8,399.8 425.8,398.8 426.8,397.7 428.0,396.5 429.3,395.2 430.5,393.9 431.9,392.6 433.2,391.2 434.7,389.8 436.3,388.3 438.1,386.7 440.0,385.0 442.1,383.2 444.4,381.2 446.9,379.1 449.5,377.0 452.1,374.8 454.8,372.8 457.4,370.8 460.0,369.0 462.5,367.4 465.0,365.8 467.5,364.4 470.0,363.0 472.5,361.7 475.0,360.4 477.5,359.2 480.0,358.0 482.5,356.8 485.0,355.7 487.5,354.6 490.0,353.6 492.5,352.6 495.0,351.6 497.5,350.8 500.0,350.0 502.5,349.3 505.1,348.6 507.6,348.1 510.2,347.6 512.7,347.1 515.2,346.7 517.6,346.3 520.0,346.0 522.2,345.7 524.3,345.5 526.3,345.3 528.3,345.2 530.3,345.1 532.4,345.0 534.6,345.0 537.0,345.0 539.6,345.1 542.4,345.2 545.3,345.3 548.3,345.5 551.3,345.7 554.3,345.9 557.2,346.2 560.0,346.6 562.7,347.0 565.3,347.5 567.8,348.0 570.3,348.5 572.8,349.1 575.2,349.7 577.6,350.3 580.0,351.0 582.4,351.7 585.0,352.6 587.5,353.5 590.0,354.4 592.4,355.3 594.5,356.1 596.4,356.8 598.0,357.4 599.2,357.8 600.1,358.2 600.7,358.4 601.1,358.6 601.4,358.7 601.6,358.8 601.8,358.9 602.0,359.0 610.0,490.0 370.0,490.0" fill="#1414e1" />
<polygon points="425.0,488.0 425.2,487.6 425.3,487.3 425.5,486.8 425.8,486.3 426.1,485.6 426.5,484.7 427.2,483.5 428.0,482.0 429.1,480.0 430.4,477.6 431.9,474.9 433.6,472.0 435.3,469.0 436.9,466.1 438.5,463.4 440.0,461.0 441.3,458.9 442.6,456.9 443.9,455.1 445.1,453.3 446.3,451.6 447.5,450.1 448.8,448.5 450.0,447.0 451.2,445.6 452.5,444.2 453.8,442.9 455.0,441.7 456.2,440.5 457.5,439.3 458.8,438.2 460.0,437.0 461.2,435.8 462.5,434.6 463.8,433.5 465.0,432.3 466.2,431.2 467.5,430.1 468.8,429.0 470.0,428.0 471.2,427.0 472.3,426.1 473.3,425.2 474.4,424.3 475.5,423.5 476.8,422.6 478.3,421.6 480.0,420.5 482.0,419.3 484.3,418.0 486.8,416.6 489.4,415.1 492.1,413.7 494.8,412.3 497.4,411.1 500.0,410.0 502.5,409.1 505.0,408.2 507.5,407.4 510.0,406.7 512.5,406.1 515.0,405.6 517.5,405.1 520.0,404.6 522.6,404.2 525.2,403.9 527.9,403.7 530.6,403.5 533.2,403.3 535.7,403.2 538.0,403.1 540.0,403.0 541.7,402.9 543.2,402.8 544.5,402.8 545.6,402.8 546.7,402.8 547.7,402.8 548.8,402.9 550.0,403.0 551.2,403.1 552.3,403.2 553.3,403.4 554.4,403.6 555.5,403.8 556.8,404.1 558.3,404.5 560.0,405.0 562.0,405.6 564.3,406.4 566.9,407.2 569.5,408.1 572.2,409.1 574.9,410.1 577.5,411.0 580.0,412.0 582.4,413.0 585.0,414.1 587.5,415.2 590.0,416.3 592.4,417.4 594.5,418.4 596.4,419.3 598.0,420.0 599.2,420.6 600.1,421.0 600.7,421.3 601.1,421.5 601.4,421.7 601.6,421.8 601.8,421.9 602.0,422.0 610.0,490.0" fill="#0a0a73" />
</g>
<rect x="382.50" y="274.50" width="215.40" height="207.40" fill="none" stroke="#8e8e8e" stroke-width="1"/>
<clipPath id="cf"><rect x="383.0" y="550.2" width="222.8" height="214.6"/></clipPath>
<g clip-path="url(#cf)" shape-rendering="crispEdges">
<rect x="383.0" y="550.2" width="222.8" height="214.6" fill="#961e1e"/>
<polygon points="550.0,547.0 550.0,547.0 549.8,546.8 549.6,546.5 549.5,546.3 549.5,546.3 550.0,546.8 550.9,547.7 552.4,549.4 554.7,551.9 557.6,555.1 561.0,558.9 564.7,563.1 568.7,567.5 572.6,571.9 576.5,576.1 580.0,580.0 583.5,583.8 587.1,587.7 590.8,591.7 594.5,595.7 597.9,599.4 601.1,602.7 603.8,605.7 606.0,608.0 607.6,609.7 608.6,610.8 609.3,611.4 609.6,611.8 609.8,611.8 609.8,611.8 609.8,611.9 610.0,612.0 615.0,775.0 370.0,775.0 370.0,547.0" fill="#c84545" />
<polygon points="484.0,547.0 484.1,547.1 484.1,547.2 484.2,547.4 484.3,547.5 484.5,547.8 484.8,548.2 485.3,548.7 486.0,549.4 486.7,550.1 487.4,550.6 488.1,551.1 488.9,551.8 490.1,552.9 491.8,554.5 494.0,556.8 497.0,560.0 500.9,564.2 505.6,569.4 510.9,575.3 516.7,581.8 522.7,588.5 528.7,595.3 534.5,601.8 540.0,608.0 545.4,614.1 551.0,620.6 556.6,627.1 562.2,633.6 567.5,639.7 572.3,645.3 576.6,650.1 580.0,654.0 582.5,656.6 584.0,658.2 584.9,658.9 585.4,659.1 585.7,659.1 586.0,659.2 586.7,659.7 588.0,661.0 589.9,663.1 592.1,665.7 594.6,668.6 597.2,671.7 599.8,674.8 602.2,677.6 604.4,680.1 606.0,682.0 607.2,683.3 608.1,684.3 608.7,684.9 609.1,685.3 609.4,685.5 609.6,685.7 609.8,685.8 610.0,686.0 615.0,775.0 370.0,775.0 370.0,547.0" fill="#e46868" />
<polygon points="418.0,547.0 418.0,547.0 417.9,546.9 417.8,546.7 417.8,546.7 417.8,546.8 418.2,547.2 418.9,548.0 420.0,549.4 421.6,551.4 423.7,554.0 426.2,557.0 428.9,560.3 431.7,563.8 434.6,567.4 437.4,570.8 440.0,574.0 442.5,577.0 445.0,580.1 447.5,583.2 450.0,586.2 452.5,589.2 455.0,592.2 457.5,595.1 460.0,598.0 462.5,600.8 465.1,603.6 467.6,606.3 470.2,608.9 472.7,611.5 475.2,614.1 477.6,616.6 480.0,619.0 482.2,621.3 484.3,623.3 486.4,625.3 488.4,627.2 490.4,629.2 492.5,631.3 494.7,633.5 497.0,636.0 499.6,638.8 502.4,641.9 505.4,645.3 508.4,648.7 511.3,652.1 514.2,655.3 516.7,658.3 519.0,661.0 520.8,663.2 522.1,664.9 523.1,666.3 524.0,667.6 525.0,668.9 526.2,670.5 527.8,672.5 530.0,675.0 532.7,678.0 535.8,681.3 539.2,684.8 542.8,688.7 546.7,692.8 550.9,697.2 555.4,702.0 560.0,707.0 565.3,712.8 571.4,719.5 577.9,726.8 584.6,734.2 591.1,741.5 597.1,748.1 602.2,753.7 606.0,758.0 608.5,760.8 610.0,762.4 610.8,763.1 610.9,763.2 610.6,762.9 610.3,762.4 610.0,762.0 610.0,762.0 615.0,775.0 370.0,775.0 370.0,547.0" fill="#ec9696" />
<polygon points="380.0,583.5 380.0,583.5 380.0,583.5 379.9,583.4 379.9,583.3 380.0,583.5 380.3,583.8 381.0,584.5 382.0,585.6 383.5,587.2 385.3,589.2 387.5,591.5 389.9,594.1 392.4,596.8 395.0,599.6 397.5,602.4 400.0,605.0 402.3,607.5 404.6,609.8 406.8,612.1 409.1,614.5 411.5,617.0 414.1,619.7 416.9,622.7 420.0,626.0 423.5,629.7 427.2,633.8 431.3,638.2 435.5,642.8 439.8,647.4 444.0,652.1 448.1,656.6 452.0,661.0 455.7,665.2 459.2,669.4 462.7,673.5 466.1,677.6 469.5,681.7 473.0,685.8 476.4,689.9 480.0,694.0 483.6,698.1 487.3,702.1 490.9,706.2 494.6,710.2 498.4,714.3 502.2,718.4 506.0,722.6 510.0,727.0 514.2,731.7 518.9,736.9 523.7,742.2 528.5,747.6 533.1,752.8 537.4,757.6 541.1,761.7 544.0,765.0 546.1,767.4 547.6,769.1 548.6,770.2 549.1,770.9 549.4,771.2 549.6,771.5 549.7,771.7 550.0,772.0 370.0,775.0" fill="#7da7d9" />
<polygon points="380.0,657.8 380.0,657.9 380.0,657.8 379.9,657.7 379.9,657.7 380.0,657.8 380.3,658.2 381.0,658.9 382.0,660.0 383.4,661.5 385.1,663.3 387.1,665.5 389.2,667.8 391.7,670.4 394.3,673.3 397.1,676.3 400.0,679.5 403.2,683.0 406.7,686.8 410.4,690.9 414.2,695.2 418.2,699.5 422.2,703.9 426.2,708.3 430.0,712.5 433.8,716.7 437.8,721.1 441.8,725.5 445.8,729.8 449.6,734.1 453.3,738.2 456.8,742.0 460.0,745.5 462.9,748.7 465.6,751.6 468.2,754.4 470.5,756.9 472.7,759.2 474.6,761.3 476.4,763.3 478.0,765.0 479.4,766.5 480.5,767.8 481.4,768.8 482.1,769.7 482.7,770.4 483.2,771.0 483.6,771.5 484.0,772.0 370.0,775.0" fill="#1414e1" />
<polygon points="380.0,732.3 380.1,732.4 380.1,732.4 380.1,732.5 380.2,732.5 380.4,732.8 380.7,733.1 381.2,733.7 382.0,734.6 383.1,735.8 384.5,737.3 386.0,739.0 387.8,740.9 389.6,743.0 391.4,745.0 393.3,747.0 395.0,749.0 396.8,751.0 398.6,753.1 400.6,755.3 402.5,757.5 404.4,759.7 406.1,761.7 407.7,763.5 409.0,765.0 410.1,766.3 411.0,767.3 411.8,768.2 412.4,769.0 412.9,769.6 413.3,770.2 413.7,770.6 414.0,771.0 370.0,775.0" fill="#0a0a73" />
</g>
<rect x="382.50" y="549.70" width="223.80" height="215.60" fill="none" stroke="#8e8e8e" stroke-width="1"/>
<text transform="translate(153.00,24.30)" font-size="12" font-weight="bold" font-family="Liberation Serif" text-anchor="start">a)</text>
<text transform="translate(205.60,9.60) scale(1.030,1)" font-size="11" font-weight="normal" font-family="Liberation Serif" text-anchor="start" stroke="#000" stroke-width="0.12">Hold values</text>
<text transform="translate(205.60,21.10)" font-size="11" font-weight="normal" font-family="Liberation Serif" text-anchor="start" stroke="#000" stroke-width="0.12">T=42.5 °C</text>
<text transform="translate(51.00,106.88) scale(0.900,1)" font-size="10" font-weight="normal" font-family="Liberation Serif" text-anchor="start" stroke="#000" stroke-width="0.12">0.6</text>
<text transform="translate(51.00,133.28) scale(0.900,1)" font-size="10" font-weight="normal" font-family="Liberation Serif" text-anchor="start" stroke="#000" stroke-width="0.12">0.4</text>
<text transform="translate(52.30,159.28) scale(0.900,1)" font-size="10" font-weight="normal" font-family="Liberation Serif" text-anchor="start" stroke="#000" stroke-width="0.12">0.2</text>
<text transform="translate(53.30,186.28) scale(0.900,1)" font-size="10" font-weight="normal" font-family="Liberation Serif" text-anchor="start" stroke="#000" stroke-width="0.12">0.0</text>
<text transform="translate(26.00,138.44) scale(0.880,1)" font-size="10.5" font-weight="bold" font-family="Liberation Serif" text-anchor="start">R1</text>
<text transform="translate(75.20,205.08) scale(0.900,1)" font-size="10" font-weight="normal" font-family="Liberation Serif" text-anchor="middle" stroke="#000" stroke-width="0.12">1.2</text>
<text transform="translate(121.50,212.97) scale(0.900,1)" font-size="10" font-weight="normal" font-family="Liberation Serif" text-anchor="middle" stroke="#000" stroke-width="0.12">1.5</text>
<text transform="translate(168.80,220.58) scale(0.900,1)" font-size="10" font-weight="normal" font-family="Liberation Serif" text-anchor="middle" stroke="#000" stroke-width="0.12">1.8</text>
<text transform="translate(215.30,227.58) scale(0.900,1)" font-size="10" font-weight="normal" font-family="Liberation Serif" text-anchor="middle" stroke="#000" stroke-width="0.12">2.1</text>
<text transform="translate(128.40,231.18)" font-size="10" font-weight="bold" font-family="Liberation Sans" text-anchor="middle">P (bar)</text>
<text transform="translate(252.50,218.68) scale(0.900,1)" font-size="10" font-weight="normal" font-family="Liberation Serif" text-anchor="middle" stroke="#000" stroke-width="0.12">0.5</text>
<text transform="translate(275.80,195.28) scale(0.900,1)" font-size="10" font-weight="normal" font-family="Liberation Serif" text-anchor="middle" stroke="#000" stroke-width="0.12">1.0</text>
<text transform="translate(299.40,171.68) scale(0.900,1)" font-size="10" font-weight="normal" font-family="Liberation Serif" text-anchor="middle" stroke="#000" stroke-width="0.12">1.5</text>
<text transform="translate(303.70,196.64) scale(0.960,1)" font-size="10.5" font-weight="bold" font-family="Liberation Serif" text-anchor="start">Q (l/min)</text>
<text transform="translate(145.50,280.00)" font-size="12" font-weight="bold" font-family="Liberation Serif" text-anchor="start">c)</text>
<text transform="translate(230.70,272.50)" font-size="11" font-weight="normal" font-family="Liberation Serif" text-anchor="start" stroke="#000" stroke-width="0.12">Hold values</text>
<text transform="translate(230.70,284.00)" font-size="11" font-weight="normal" font-family="Liberation Serif" text-anchor="start" stroke="#000" stroke-width="0.12">T=42.5 °C</text>
<text transform="translate(69.00,372.97) scale(0.860,1)" font-size="10.3" font-weight="normal" font-family="Liberation Serif" text-anchor="start" stroke="#000" stroke-width="0.12">97.5</text>
<text transform="translate(69.00,395.77) scale(0.860,1)" font-size="10.3" font-weight="normal" font-family="Liberation Serif" text-anchor="start" stroke="#000" stroke-width="0.12">95.0</text>
<text transform="translate(69.00,418.37) scale(0.860,1)" font-size="10.3" font-weight="normal" font-family="Liberation Serif" text-anchor="start" stroke="#000" stroke-width="0.12">92.5</text>
<text transform="translate(69.00,441.37) scale(0.860,1)" font-size="10.3" font-weight="normal" font-family="Liberation Serif" text-anchor="start" stroke="#000" stroke-width="0.12">90.0</text>
<text transform="translate(33.60,405.04) scale(0.880,1)" font-size="10.5" font-weight="bold" font-family="Liberation Serif" text-anchor="start">R2 (%)</text>
<text transform="translate(93.70,479.77) scale(0.860,1)" font-size="10.3" font-weight="normal" font-family="Liberation Serif" text-anchor="middle" stroke="#000" stroke-width="0.12">1.2</text>
<text transform="translate(135.00,487.77) scale(0.860,1)" font-size="10.3" font-weight="normal" font-family="Liberation Serif" text-anchor="middle" stroke="#000" stroke-width="0.12">1.5</text>
<text transform="translate(176.80,496.37) scale(0.860,1)" font-size="10.3" font-weight="normal" font-family="Liberation Serif" text-anchor="middle" stroke="#000" stroke-width="0.12">1.8</text>
<text transform="translate(218.50,503.97) scale(0.860,1)" font-size="10.3" font-weight="normal" font-family="Liberation Serif" text-anchor="middle" stroke="#000" stroke-width="0.12">2.1</text>
<text transform="translate(141.00,508.94) scale(0.880,1)" font-size="10.5" font-weight="bold" font-family="Liberation Serif" text-anchor="middle">P (bar)</text>
<text transform="translate(250.80,494.37) scale(0.860,1)" font-size="10.3" font-weight="normal" font-family="Liberation Serif" text-anchor="middle" stroke="#000" stroke-width="0.12">0.5</text>
<text transform="translate(270.90,468.67) scale(0.860,1)" font-size="10.3" font-weight="normal" font-family="Liberation Serif" text-anchor="middle" stroke="#000" stroke-width="0.12">1.0</text>
<text transform="translate(293.30,442.37) scale(0.860,1)" font-size="10.3" font-weight="normal" font-family="Liberation Serif" text-anchor="middle" stroke="#000" stroke-width="0.12">1.5</text>
<text transform="translate(291.40,468.74) scale(0.880,1)" font-size="10.5" font-weight="bold" font-family="Liberation Serif" text-anchor="start">Q (l/ min)</text>
<text transform="translate(119.80,561.30)" font-size="13.5" font-weight="bold" font-family="Liberation Serif" text-anchor="start">e)</text>
<text transform="translate(232.80,555.60)" font-size="12" font-weight="normal" font-family="Liberation Serif" text-anchor="start" stroke="#000" stroke-width="0.12">Hold values</text>
<text transform="translate(232.80,568.90)" font-size="12" font-weight="normal" font-family="Liberation Serif" text-anchor="start" stroke="#000" stroke-width="0.12">Q=1.21 l/min</text>
<text transform="translate(36.60,653.44) scale(1.050,1)" font-size="10.8" font-weight="normal" font-family="Liberation Serif" text-anchor="middle" stroke="#000" stroke-width="0.12">0.6</text>
<text transform="translate(36.60,683.34) scale(1.050,1)" font-size="10.8" font-weight="normal" font-family="Liberation Serif" text-anchor="middle" stroke="#000" stroke-width="0.12">0.5</text>
<text transform="translate(36.60,713.54) scale(1.050,1)" font-size="10.8" font-weight="normal" font-family="Liberation Serif" text-anchor="middle" stroke="#000" stroke-width="0.12">0.4</text>
<text transform="translate(36.60,742.54) scale(1.050,1)" font-size="10.8" font-weight="normal" font-family="Liberation Serif" text-anchor="middle" stroke="#000" stroke-width="0.12">0.3</text>
<text transform="translate(2.00,685.43) scale(0.870,1)" font-size="12" font-weight="bold" font-family="Liberation Serif" text-anchor="start">R1</text>
<text transform="translate(56.10,760.54) scale(0.950,1)" font-size="10.8" font-weight="normal" font-family="Liberation Serif" text-anchor="middle" stroke="#000" stroke-width="0.12">1.2</text>
<text transform="translate(107.20,767.94) scale(0.950,1)" font-size="10.8" font-weight="normal" font-family="Liberation Serif" text-anchor="middle" stroke="#000" stroke-width="0.12">1.5</text>
<text transform="translate(159.70,776.94) scale(0.950,1)" font-size="10.8" font-weight="normal" font-family="Liberation Serif" text-anchor="middle" stroke="#000" stroke-width="0.12">1.8</text>
<text transform="translate(210.40,784.74) scale(0.950,1)" font-size="10.8" font-weight="normal" font-family="Liberation Serif" text-anchor="middle" stroke="#000" stroke-width="0.12">2.1</text>
<text transform="translate(115.60,789.14)" font-size="10.5" font-weight="bold" font-family="Liberation Serif" text-anchor="middle">P (bar)</text>
<text transform="translate(257.20,764.94) scale(0.900,1)" font-size="10.5" font-weight="normal" font-family="Liberation Serif" text-anchor="middle" stroke="#000" stroke-width="0.12">30</text>
<text transform="translate(276.00,746.94) scale(0.900,1)" font-size="10.5" font-weight="normal" font-family="Liberation Serif" text-anchor="middle" stroke="#000" stroke-width="0.12">40</text>
<text transform="translate(293.80,728.44) scale(0.900,1)" font-size="10.5" font-weight="normal" font-family="Liberation Serif" text-anchor="middle" stroke="#000" stroke-width="0.12">50</text>
<text transform="translate(312.10,710.64) scale(0.900,1)" font-size="10.5" font-weight="normal" font-family="Liberation Serif" text-anchor="middle" stroke="#000" stroke-width="0.12">60</text>
<text transform="translate(306.70,753.84) scale(1.030,1)" font-size="10.5" font-weight="bold" font-family="Liberation Serif" text-anchor="middle">T (°C)</text>
<line x1="78.2" y1="108.0" x2="75.2" y2="108.4" stroke="#9a9a9a" stroke-width="1"/>
<line x1="79.0" y1="133.6" x2="76.0" y2="134.0" stroke="#9a9a9a" stroke-width="1"/>
<line x1="79.9" y1="159.6" x2="76.9" y2="160.0" stroke="#9a9a9a" stroke-width="1"/>
<line x1="80.8" y1="185.6" x2="77.8" y2="186.0" stroke="#9a9a9a" stroke-width="1"/>
<line x1="232.5" y1="211.0" x2="235.7" y2="211.6" stroke="#9a9a9a" stroke-width="1"/>
<line x1="258.2" y1="189.2" x2="261.4" y2="189.8" stroke="#9a9a9a" stroke-width="1"/>
<line x1="281.0" y1="166.4" x2="284.2" y2="167.0" stroke="#9a9a9a" stroke-width="1"/>
<line x1="95.8" y1="374.4" x2="92.8" y2="374.8" stroke="#9a9a9a" stroke-width="1"/>
<line x1="96.4" y1="397.6" x2="93.4" y2="398.0" stroke="#9a9a9a" stroke-width="1"/>
<line x1="97.0" y1="420.4" x2="94.0" y2="420.8" stroke="#9a9a9a" stroke-width="1"/>
<line x1="97.6" y1="443.0" x2="94.6" y2="443.4" stroke="#9a9a9a" stroke-width="1"/>
<line x1="232.8" y1="489.3" x2="236.0" y2="489.9" stroke="#9a9a9a" stroke-width="1"/>
<line x1="255.9" y1="463.4" x2="259.1" y2="464.0" stroke="#9a9a9a" stroke-width="1"/>
<line x1="276.2" y1="437.3" x2="279.4" y2="437.9" stroke="#9a9a9a" stroke-width="1"/>
<line x1="59.9" y1="654.2" x2="56.9" y2="654.6" stroke="#9a9a9a" stroke-width="1"/>
<line x1="60.5" y1="684.4" x2="57.5" y2="684.8" stroke="#9a9a9a" stroke-width="1"/>
<line x1="61.1" y1="713.2" x2="58.1" y2="713.6" stroke="#9a9a9a" stroke-width="1"/>
<line x1="61.6" y1="742.0" x2="58.6" y2="742.4" stroke="#9a9a9a" stroke-width="1"/>
<line x1="238.0" y1="760.1" x2="241.2" y2="760.7" stroke="#9a9a9a" stroke-width="1"/>
<line x1="255.9" y1="742.0" x2="259.1" y2="742.6" stroke="#9a9a9a" stroke-width="1"/>
<line x1="275.2" y1="723.6" x2="278.4" y2="724.2" stroke="#9a9a9a" stroke-width="1"/>
<line x1="295.3" y1="705.2" x2="298.5" y2="705.8" stroke="#9a9a9a" stroke-width="1"/>
<line x1="413.0" y1="214.0" x2="413.0" y2="216.0" stroke="#8a8a8a" stroke-width="1"/>
<text transform="translate(413.00,225.28) scale(0.880,1)" font-size="10" font-weight="normal" font-family="Liberation Serif" text-anchor="middle" stroke="#000" stroke-width="0.12">1.3</text>
<line x1="437.6" y1="214.0" x2="437.6" y2="216.0" stroke="#8a8a8a" stroke-width="1"/>
<text transform="translate(437.60,225.28) scale(0.880,1)" font-size="10" font-weight="normal" font-family="Liberation Serif" text-anchor="middle" stroke="#000" stroke-width="0.12">1.4</text>
<line x1="462.4" y1="214.0" x2="462.4" y2="216.0" stroke="#8a8a8a" stroke-width="1"/>
<text transform="translate(462.40,225.28) scale(0.880,1)" font-size="10" font-weight="normal" font-family="Liberation Serif" text-anchor="middle" stroke="#000" stroke-width="0.12">1.5</text>
<line x1="487.0" y1="214.0" x2="487.0" y2="216.0" stroke="#8a8a8a" stroke-width="1"/>
<text transform="translate(487.00,225.28) scale(0.880,1)" font-size="10" font-weight="normal" font-family="Liberation Serif" text-anchor="middle" stroke="#000" stroke-width="0.12">1.6</text>
<line x1="511.6" y1="214.0" x2="511.6" y2="216.0" stroke="#8a8a8a" stroke-width="1"/>
<text transform="translate(511.60,225.28) scale(0.880,1)" font-size="10" font-weight="normal" font-family="Liberation Serif" text-anchor="middle" stroke="#000" stroke-width="0.12">1.7</text>
<line x1="536.2" y1="214.0" x2="536.2" y2="216.0" stroke="#8a8a8a" stroke-width="1"/>
<text transform="translate(536.20,225.28) scale(0.880,1)" font-size="10" font-weight="normal" font-family="Liberation Serif" text-anchor="middle" stroke="#000" stroke-width="0.12">1.8</text>
<line x1="560.8" y1="214.0" x2="560.8" y2="216.0" stroke="#8a8a8a" stroke-width="1"/>
<text transform="translate(560.80,225.28) scale(0.880,1)" font-size="10" font-weight="normal" font-family="Liberation Serif" text-anchor="middle" stroke="#000" stroke-width="0.12">1.9</text>
<line x1="585.4" y1="214.0" x2="585.4" y2="216.0" stroke="#8a8a8a" stroke-width="1"/>
<text transform="translate(585.40,225.28) scale(0.880,1)" font-size="10" font-weight="normal" font-family="Liberation Serif" text-anchor="middle" stroke="#000" stroke-width="0.12">2.0</text>
<line x1="390.0" y1="33.3" x2="392.0" y2="33.3" stroke="#8a8a8a" stroke-width="1"/>
<text transform="translate(387.60,35.37) scale(0.880,1)" font-size="10" font-weight="normal" font-family="Liberation Serif" text-anchor="end" stroke="#000" stroke-width="0.12">1.6</text>
<line x1="390.0" y1="66.6" x2="392.0" y2="66.6" stroke="#8a8a8a" stroke-width="1"/>
<text transform="translate(387.60,68.67) scale(0.880,1)" font-size="10" font-weight="normal" font-family="Liberation Serif" text-anchor="end" stroke="#000" stroke-width="0.12">1.4</text>
<line x1="390.0" y1="100.0" x2="392.0" y2="100.0" stroke="#8a8a8a" stroke-width="1"/>
<text transform="translate(387.60,102.08) scale(0.880,1)" font-size="10" font-weight="normal" font-family="Liberation Serif" text-anchor="end" stroke="#000" stroke-width="0.12">1.2</text>
<line x1="390.0" y1="133.4" x2="392.0" y2="133.4" stroke="#8a8a8a" stroke-width="1"/>
<text transform="translate(387.60,135.48) scale(0.880,1)" font-size="10" font-weight="normal" font-family="Liberation Serif" text-anchor="end" stroke="#000" stroke-width="0.12">1.0</text>
<line x1="390.0" y1="166.6" x2="392.0" y2="166.6" stroke="#8a8a8a" stroke-width="1"/>
<text transform="translate(387.60,168.68) scale(0.880,1)" font-size="10" font-weight="normal" font-family="Liberation Serif" text-anchor="end" stroke="#000" stroke-width="0.12">0.8</text>
<line x1="390.0" y1="199.8" x2="392.0" y2="199.8" stroke="#8a8a8a" stroke-width="1"/>
<text transform="translate(387.60,201.88) scale(0.880,1)" font-size="10" font-weight="normal" font-family="Liberation Serif" text-anchor="end" stroke="#000" stroke-width="0.12">0.6</text>
<text transform="translate(495.50,239.44)" font-size="10.5" font-weight="bold" font-family="Liberation Serif" text-anchor="middle">P (bar)</text>
<text transform="translate(368.30,112.00) rotate(-90)" font-size="10.5" font-weight="bold" font-family="Liberation Serif" text-anchor="middle">Q (l/min)</text>
<text transform="translate(371.50,24.20)" font-size="13" font-weight="bold" font-family="Liberation Serif" text-anchor="start">b)</text>
<line x1="404.0" y1="482.4" x2="404.0" y2="484.4" stroke="#8a8a8a" stroke-width="1"/>
<text transform="translate(404.00,493.91) scale(0.740,1)" font-size="9.8" font-weight="normal" font-family="Liberation Sans" text-anchor="middle" stroke="#000" stroke-width="0.12">1.3</text>
<line x1="429.0" y1="482.4" x2="429.0" y2="484.4" stroke="#8a8a8a" stroke-width="1"/>
<text transform="translate(429.00,493.91) scale(0.740,1)" font-size="9.8" font-weight="normal" font-family="Liberation Sans" text-anchor="middle" stroke="#000" stroke-width="0.12">1.4</text>
<line x1="454.0" y1="482.4" x2="454.0" y2="484.4" stroke="#8a8a8a" stroke-width="1"/>
<text transform="translate(454.00,493.91) scale(0.740,1)" font-size="9.8" font-weight="normal" font-family="Liberation Sans" text-anchor="middle" stroke="#000" stroke-width="0.12">1.5</text>
<line x1="480.0" y1="482.4" x2="480.0" y2="484.4" stroke="#8a8a8a" stroke-width="1"/>
<text transform="translate(480.00,493.91) scale(0.740,1)" font-size="9.8" font-weight="normal" font-family="Liberation Sans" text-anchor="middle" stroke="#000" stroke-width="0.12">1.6</text>
<line x1="505.6" y1="482.4" x2="505.6" y2="484.4" stroke="#8a8a8a" stroke-width="1"/>
<text transform="translate(505.60,493.91) scale(0.740,1)" font-size="9.8" font-weight="normal" font-family="Liberation Sans" text-anchor="middle" stroke="#000" stroke-width="0.12">1.7</text>
<line x1="530.4" y1="482.4" x2="530.4" y2="484.4" stroke="#8a8a8a" stroke-width="1"/>
<text transform="translate(530.40,493.91) scale(0.740,1)" font-size="9.8" font-weight="normal" font-family="Liberation Sans" text-anchor="middle" stroke="#000" stroke-width="0.12">1.8</text>
<line x1="555.6" y1="482.4" x2="555.6" y2="484.4" stroke="#8a8a8a" stroke-width="1"/>
<text transform="translate(555.60,493.91) scale(0.740,1)" font-size="9.8" font-weight="normal" font-family="Liberation Sans" text-anchor="middle" stroke="#000" stroke-width="0.12">1.9</text>
<line x1="581.0" y1="482.4" x2="581.0" y2="484.4" stroke="#8a8a8a" stroke-width="1"/>
<text transform="translate(581.00,493.91) scale(0.740,1)" font-size="9.8" font-weight="normal" font-family="Liberation Sans" text-anchor="middle" stroke="#000" stroke-width="0.12">2.0</text>
<line x1="380.0" y1="297.5" x2="382.0" y2="297.5" stroke="#8a8a8a" stroke-width="1"/>
<text transform="translate(377.20,301.01) scale(0.740,1)" font-size="9.8" font-weight="normal" font-family="Liberation Sans" text-anchor="end" stroke="#000" stroke-width="0.12">1.6</text>
<line x1="380.0" y1="332.0" x2="382.0" y2="332.0" stroke="#8a8a8a" stroke-width="1"/>
<text transform="translate(377.20,335.51) scale(0.740,1)" font-size="9.8" font-weight="normal" font-family="Liberation Sans" text-anchor="end" stroke="#000" stroke-width="0.12">1.4</text>
<line x1="380.0" y1="365.3" x2="382.0" y2="365.3" stroke="#8a8a8a" stroke-width="1"/>
<text transform="translate(377.20,368.81) scale(0.740,1)" font-size="9.8" font-weight="normal" font-family="Liberation Sans" text-anchor="end" stroke="#000" stroke-width="0.12">1.2</text>
<line x1="380.0" y1="398.8" x2="382.0" y2="398.8" stroke="#8a8a8a" stroke-width="1"/>
<text transform="translate(377.20,402.31) scale(0.740,1)" font-size="9.8" font-weight="normal" font-family="Liberation Sans" text-anchor="end" stroke="#000" stroke-width="0.12">1.0</text>
<line x1="380.0" y1="433.0" x2="382.0" y2="433.0" stroke="#8a8a8a" stroke-width="1"/>
<text transform="translate(377.20,436.51) scale(0.740,1)" font-size="9.8" font-weight="normal" font-family="Liberation Sans" text-anchor="end" stroke="#000" stroke-width="0.12">0.8</text>
<line x1="380.0" y1="467.4" x2="382.0" y2="467.4" stroke="#8a8a8a" stroke-width="1"/>
<text transform="translate(377.20,470.91) scale(0.740,1)" font-size="9.8" font-weight="normal" font-family="Liberation Sans" text-anchor="end" stroke="#000" stroke-width="0.12">0.6</text>
<text transform="translate(490.50,507.44)" font-size="10.5" font-weight="bold" font-family="Liberation Serif" text-anchor="middle">P (bar)</text>
<text transform="translate(358.50,378.00) rotate(-90)" font-size="10.5" font-weight="bold" font-family="Liberation Serif" text-anchor="middle">Q (l/min)</text>
<text transform="translate(367.00,283.40)" font-size="11" font-weight="bold" font-family="Liberation Serif" text-anchor="start">d)</text>
<line x1="404.0" y1="765.8" x2="404.0" y2="767.8" stroke="#8a8a8a" stroke-width="1"/>
<text transform="translate(404.00,776.91) scale(0.780,1)" font-size="9.8" font-weight="normal" font-family="Liberation Sans" text-anchor="middle" stroke="#000" stroke-width="0.12">1.3</text>
<line x1="430.4" y1="765.8" x2="430.4" y2="767.8" stroke="#8a8a8a" stroke-width="1"/>
<text transform="translate(430.40,776.91) scale(0.780,1)" font-size="9.8" font-weight="normal" font-family="Liberation Sans" text-anchor="middle" stroke="#000" stroke-width="0.12">1.4</text>
<line x1="457.4" y1="765.8" x2="457.4" y2="767.8" stroke="#8a8a8a" stroke-width="1"/>
<text transform="translate(457.40,776.91) scale(0.780,1)" font-size="9.8" font-weight="normal" font-family="Liberation Sans" text-anchor="middle" stroke="#000" stroke-width="0.12">1.5</text>
<line x1="484.0" y1="765.8" x2="484.0" y2="767.8" stroke="#8a8a8a" stroke-width="1"/>
<text transform="translate(484.00,776.91) scale(0.780,1)" font-size="9.8" font-weight="normal" font-family="Liberation Sans" text-anchor="middle" stroke="#000" stroke-width="0.12">1.6</text>
<line x1="509.0" y1="765.8" x2="509.0" y2="767.8" stroke="#8a8a8a" stroke-width="1"/>
<text transform="translate(509.00,776.91) scale(0.780,1)" font-size="9.8" font-weight="normal" font-family="Liberation Sans" text-anchor="middle" stroke="#000" stroke-width="0.12">1.7</text>
<line x1="536.0" y1="765.8" x2="536.0" y2="767.8" stroke="#8a8a8a" stroke-width="1"/>
<text transform="translate(536.00,776.91) scale(0.780,1)" font-size="9.8" font-weight="normal" font-family="Liberation Sans" text-anchor="middle" stroke="#000" stroke-width="0.12">1.8</text>
<line x1="562.4" y1="765.8" x2="562.4" y2="767.8" stroke="#8a8a8a" stroke-width="1"/>
<text transform="translate(562.40,776.91) scale(0.780,1)" font-size="9.8" font-weight="normal" font-family="Liberation Sans" text-anchor="middle" stroke="#000" stroke-width="0.12">1.9</text>
<line x1="589.0" y1="765.8" x2="589.0" y2="767.8" stroke="#8a8a8a" stroke-width="1"/>
<text transform="translate(589.00,776.91) scale(0.780,1)" font-size="9.8" font-weight="normal" font-family="Liberation Sans" text-anchor="middle" stroke="#000" stroke-width="0.12">2.0</text>
<line x1="380.0" y1="579.6" x2="382.0" y2="579.6" stroke="#8a8a8a" stroke-width="1"/>
<text transform="translate(376.00,582.31) scale(0.780,1)" font-size="9.8" font-weight="normal" font-family="Liberation Sans" text-anchor="end" stroke="#000" stroke-width="0.12">55</text>
<line x1="380.0" y1="610.4" x2="382.0" y2="610.4" stroke="#8a8a8a" stroke-width="1"/>
<text transform="translate(376.00,613.11) scale(0.780,1)" font-size="9.8" font-weight="normal" font-family="Liberation Sans" text-anchor="end" stroke="#000" stroke-width="0.12">50</text>
<line x1="380.0" y1="641.6" x2="382.0" y2="641.6" stroke="#8a8a8a" stroke-width="1"/>
<text transform="translate(376.00,644.31) scale(0.780,1)" font-size="9.8" font-weight="normal" font-family="Liberation Sans" text-anchor="end" stroke="#000" stroke-width="0.12">45</text>
<line x1="380.0" y1="673.0" x2="382.0" y2="673.0" stroke="#8a8a8a" stroke-width="1"/>
<text transform="translate(376.00,675.71) scale(0.780,1)" font-size="9.8" font-weight="normal" font-family="Liberation Sans" text-anchor="end" stroke="#000" stroke-width="0.12">40</text>
<line x1="380.0" y1="704.6" x2="382.0" y2="704.6" stroke="#8a8a8a" stroke-width="1"/>
<text transform="translate(376.00,707.31) scale(0.780,1)" font-size="9.8" font-weight="normal" font-family="Liberation Sans" text-anchor="end" stroke="#000" stroke-width="0.12">35</text>
<line x1="380.0" y1="736.4" x2="382.0" y2="736.4" stroke="#8a8a8a" stroke-width="1"/>
<text transform="translate(376.00,739.11) scale(0.780,1)" font-size="9.8" font-weight="normal" font-family="Liberation Sans" text-anchor="end" stroke="#000" stroke-width="0.12">30</text>
<text transform="translate(494.00,792.44)" font-size="10.5" font-weight="bold" font-family="Liberation Serif" text-anchor="middle">P (bar)</text>
<text transform="translate(352.60,644.40) rotate(-90) scale(1.150,1)" font-size="9" font-weight="bold" font-family="Liberation Serif" text-anchor="middle">T (°C)</text>
<text transform="translate(370.00,559.50)" font-size="13" font-weight="bold" font-family="Liberation Serif" text-anchor="start">f)</text>
<text transform="translate(651.30,21.61) scale(0.950,1)" font-size="9.5" font-weight="bold" font-family="Liberation Serif" text-anchor="middle">R1</text>
<rect x="610.0" y="26.4" width="11.8" height="8.4" fill="#0a0a73"/>
<text transform="translate(652.40,34.34)" font-size="10.5" font-weight="normal" font-family="Liberation Serif" text-anchor="middle" stroke="#000" stroke-width="0.12">&lt;</text>
<text transform="translate(676.00,33.61) scale(0.940,1)" font-size="9.2" font-weight="normal" font-family="Liberation Serif" text-anchor="end" stroke="#000" stroke-width="0.12">0.10</text>
<rect x="610.0" y="38.3" width="11.8" height="8.3" fill="#1414e1"/>
<text transform="translate(642.60,45.46) scale(0.940,1)" font-size="9.2" font-weight="normal" font-family="Liberation Serif" text-anchor="end" stroke="#000" stroke-width="0.12">0.10</text>
<line x1="649.8" y1="43.0" x2="655.0" y2="43.0" stroke="#222" stroke-width="0.9"/>
<text transform="translate(676.00,45.46) scale(0.940,1)" font-size="9.2" font-weight="normal" font-family="Liberation Serif" text-anchor="end" stroke="#000" stroke-width="0.12">0.22</text>
<rect x="610.0" y="50.1" width="11.8" height="7.8" fill="#7da7d9"/>
<text transform="translate(642.60,57.01) scale(0.940,1)" font-size="9.2" font-weight="normal" font-family="Liberation Serif" text-anchor="end" stroke="#000" stroke-width="0.12">0.22</text>
<line x1="649.8" y1="54.5" x2="655.0" y2="54.5" stroke="#222" stroke-width="0.9"/>
<text transform="translate(676.00,57.01) scale(0.940,1)" font-size="9.2" font-weight="normal" font-family="Liberation Serif" text-anchor="end" stroke="#000" stroke-width="0.12">0.34</text>
<rect x="610.0" y="61.5" width="11.8" height="8.5" fill="#ec9696"/>
<text transform="translate(642.60,68.76) scale(0.940,1)" font-size="9.2" font-weight="normal" font-family="Liberation Serif" text-anchor="end" stroke="#000" stroke-width="0.12">0.34</text>
<line x1="649.8" y1="66.2" x2="655.0" y2="66.2" stroke="#222" stroke-width="0.9"/>
<text transform="translate(676.00,68.76) scale(0.940,1)" font-size="9.2" font-weight="normal" font-family="Liberation Serif" text-anchor="end" stroke="#000" stroke-width="0.12">0.46</text>
<rect x="610.0" y="73.5" width="11.8" height="8.2" fill="#c84545"/>
<text transform="translate(642.60,80.61) scale(0.940,1)" font-size="9.2" font-weight="normal" font-family="Liberation Serif" text-anchor="end" stroke="#000" stroke-width="0.12">0.46</text>
<line x1="649.8" y1="78.1" x2="655.0" y2="78.1" stroke="#222" stroke-width="0.9"/>
<text transform="translate(676.00,80.61) scale(0.940,1)" font-size="9.2" font-weight="normal" font-family="Liberation Serif" text-anchor="end" stroke="#000" stroke-width="0.12">0.58</text>
<rect x="610.0" y="85.3" width="11.8" height="8.2" fill="#5f0a14"/>
<text transform="translate(652.40,93.14)" font-size="10.5" font-weight="normal" font-family="Liberation Serif" text-anchor="middle" stroke="#000" stroke-width="0.12">&gt;</text>
<text transform="translate(676.00,92.41) scale(0.940,1)" font-size="9.2" font-weight="normal" font-family="Liberation Serif" text-anchor="end" stroke="#000" stroke-width="0.12">0.58</text>
<text transform="translate(611.70,114.40) scale(0.970,1)" font-size="12" font-weight="normal" font-family="Liberation Serif" text-anchor="start" stroke="#000" stroke-width="0.12">Hold values</text>
<text transform="translate(611.70,126.60) scale(0.960,1)" font-size="12" font-weight="normal" font-family="Liberation Serif" text-anchor="start" stroke="#000" stroke-width="0.12">T=42.5 °C</text>
<text transform="translate(633.50,285.31) scale(0.950,1)" font-size="9.5" font-weight="bold" font-family="Liberation Serif" text-anchor="middle">R2</text>
<rect x="603.4" y="289.6" width="9.7" height="7.4" fill="#0a0a73"/>
<text transform="translate(633.40,297.04)" font-size="10.5" font-weight="normal" font-family="Liberation Serif" text-anchor="middle" stroke="#000" stroke-width="0.12">&lt;</text>
<text transform="translate(648.80,296.31) scale(0.940,1)" font-size="9.2" font-weight="normal" font-family="Liberation Serif" text-anchor="end" stroke="#000" stroke-width="0.12">90</text>
<rect x="603.4" y="300.7" width="9.7" height="7.3" fill="#1414e1"/>
<text transform="translate(625.80,307.36) scale(0.940,1)" font-size="9.2" font-weight="normal" font-family="Liberation Serif" text-anchor="end" stroke="#000" stroke-width="0.12">90</text>
<line x1="630.8" y1="304.9" x2="636.0" y2="304.9" stroke="#222" stroke-width="0.9"/>
<text transform="translate(648.80,307.36) scale(0.940,1)" font-size="9.2" font-weight="normal" font-family="Liberation Serif" text-anchor="end" stroke="#000" stroke-width="0.12">92</text>
<rect x="603.4" y="311.0" width="9.7" height="7.3" fill="#7da7d9"/>
<text transform="translate(625.80,317.66) scale(0.940,1)" font-size="9.2" font-weight="normal" font-family="Liberation Serif" text-anchor="end" stroke="#000" stroke-width="0.12">92</text>
<line x1="630.8" y1="315.1" x2="636.0" y2="315.1" stroke="#222" stroke-width="0.9"/>
<text transform="translate(648.80,317.66) scale(0.940,1)" font-size="9.2" font-weight="normal" font-family="Liberation Serif" text-anchor="end" stroke="#000" stroke-width="0.12">94</text>
<rect x="603.4" y="322.1" width="9.7" height="7.4" fill="#ec9696"/>
<text transform="translate(625.80,328.81) scale(0.940,1)" font-size="9.2" font-weight="normal" font-family="Liberation Serif" text-anchor="end" stroke="#000" stroke-width="0.12">94</text>
<line x1="630.8" y1="326.3" x2="636.0" y2="326.3" stroke="#222" stroke-width="0.9"/>
<text transform="translate(648.80,328.81) scale(0.940,1)" font-size="9.2" font-weight="normal" font-family="Liberation Serif" text-anchor="end" stroke="#000" stroke-width="0.12">96</text>
<rect x="603.4" y="333.0" width="9.7" height="7.6" fill="#c84545"/>
<text transform="translate(625.80,339.81) scale(0.940,1)" font-size="9.2" font-weight="normal" font-family="Liberation Serif" text-anchor="end" stroke="#000" stroke-width="0.12">96</text>
<line x1="630.8" y1="337.3" x2="636.0" y2="337.3" stroke="#222" stroke-width="0.9"/>
<text transform="translate(648.80,339.81) scale(0.940,1)" font-size="9.2" font-weight="normal" font-family="Liberation Serif" text-anchor="end" stroke="#000" stroke-width="0.12">98</text>
<rect x="603.4" y="344.1" width="9.7" height="7.6" fill="#5f0a14"/>
<text transform="translate(633.40,351.64)" font-size="10.5" font-weight="normal" font-family="Liberation Serif" text-anchor="middle" stroke="#000" stroke-width="0.12">&gt;</text>
<text transform="translate(648.80,350.91) scale(0.940,1)" font-size="9.2" font-weight="normal" font-family="Liberation Serif" text-anchor="end" stroke="#000" stroke-width="0.12">98</text>
<text transform="translate(608.20,377.50)" font-size="11" font-weight="normal" font-family="Liberation Serif" text-anchor="start" stroke="#000" stroke-width="0.12">Hold values</text>
<text transform="translate(608.20,389.00) scale(0.960,1)" font-size="11" font-weight="normal" font-family="Liberation Serif" text-anchor="start" stroke="#000" stroke-width="0.12">T=42.5 °C</text>
<text transform="translate(648.60,560.71) scale(0.950,1)" font-size="9.5" font-weight="bold" font-family="Liberation Serif" text-anchor="middle">R1</text>
<rect x="611.2" y="565.5" width="9.8" height="7.9" fill="#0a0a73"/>
<text transform="translate(649.20,573.19)" font-size="10.5" font-weight="normal" font-family="Liberation Serif" text-anchor="middle" stroke="#000" stroke-width="0.12">&lt;</text>
<text transform="translate(672.00,572.46) scale(0.940,1)" font-size="9.2" font-weight="normal" font-family="Liberation Serif" text-anchor="end" stroke="#000" stroke-width="0.12">0.35</text>
<rect x="611.2" y="576.6" width="9.8" height="7.7" fill="#1414e1"/>
<text transform="translate(641.00,583.46) scale(0.940,1)" font-size="9.2" font-weight="normal" font-family="Liberation Serif" text-anchor="end" stroke="#000" stroke-width="0.12">0.35</text>
<line x1="646.6" y1="581.0" x2="651.8" y2="581.0" stroke="#222" stroke-width="0.9"/>
<text transform="translate(672.00,583.46) scale(0.940,1)" font-size="9.2" font-weight="normal" font-family="Liberation Serif" text-anchor="end" stroke="#000" stroke-width="0.12">0.40</text>
<rect x="611.2" y="587.8" width="9.8" height="7.9" fill="#7da7d9"/>
<text transform="translate(641.00,594.76) scale(0.940,1)" font-size="9.2" font-weight="normal" font-family="Liberation Serif" text-anchor="end" stroke="#000" stroke-width="0.12">0.40</text>
<line x1="646.6" y1="592.2" x2="651.8" y2="592.2" stroke="#222" stroke-width="0.9"/>
<text transform="translate(672.00,594.76) scale(0.940,1)" font-size="9.2" font-weight="normal" font-family="Liberation Serif" text-anchor="end" stroke="#000" stroke-width="0.12">0.45</text>
<rect x="611.2" y="598.9" width="9.8" height="7.9" fill="#ec9696"/>
<text transform="translate(641.00,605.86) scale(0.940,1)" font-size="9.2" font-weight="normal" font-family="Liberation Serif" text-anchor="end" stroke="#000" stroke-width="0.12">0.45</text>
<line x1="646.6" y1="603.3" x2="651.8" y2="603.3" stroke="#222" stroke-width="0.9"/>
<text transform="translate(672.00,605.86) scale(0.940,1)" font-size="9.2" font-weight="normal" font-family="Liberation Serif" text-anchor="end" stroke="#000" stroke-width="0.12">0.50</text>
<rect x="611.2" y="610.3" width="9.8" height="7.9" fill="#e46868"/>
<text transform="translate(641.00,617.26) scale(0.940,1)" font-size="9.2" font-weight="normal" font-family="Liberation Serif" text-anchor="end" stroke="#000" stroke-width="0.12">0.50</text>
<line x1="646.6" y1="614.8" x2="651.8" y2="614.8" stroke="#222" stroke-width="0.9"/>
<text transform="translate(672.00,617.26) scale(0.940,1)" font-size="9.2" font-weight="normal" font-family="Liberation Serif" text-anchor="end" stroke="#000" stroke-width="0.12">0.55</text>
<rect x="611.2" y="621.4" width="9.8" height="7.9" fill="#c84545"/>
<text transform="translate(641.00,628.36) scale(0.940,1)" font-size="9.2" font-weight="normal" font-family="Liberation Serif" text-anchor="end" stroke="#000" stroke-width="0.12">0.55</text>
<line x1="646.6" y1="625.8" x2="651.8" y2="625.8" stroke="#222" stroke-width="0.9"/>
<text transform="translate(672.00,628.36) scale(0.940,1)" font-size="9.2" font-weight="normal" font-family="Liberation Serif" text-anchor="end" stroke="#000" stroke-width="0.12">0.60</text>
<rect x="611.2" y="632.8" width="9.8" height="7.9" fill="#961e1e"/>
<text transform="translate(649.20,640.49)" font-size="10.5" font-weight="normal" font-family="Liberation Serif" text-anchor="middle" stroke="#000" stroke-width="0.12">&gt;</text>
<text transform="translate(672.00,639.76) scale(0.940,1)" font-size="9.2" font-weight="normal" font-family="Liberation Serif" text-anchor="end" stroke="#000" stroke-width="0.12">0.60</text>
<text transform="translate(617.90,661.60)" font-size="12" font-weight="normal" font-family="Liberation Serif" text-anchor="start" stroke="#000" stroke-width="0.12">Hold values</text>
<text transform="translate(617.90,673.80)" font-size="12" font-weight="normal" font-family="Liberation Serif" text-anchor="start" stroke="#000" stroke-width="0.12">Q=1.21 l/min</text>
</svg>
</body></html>
